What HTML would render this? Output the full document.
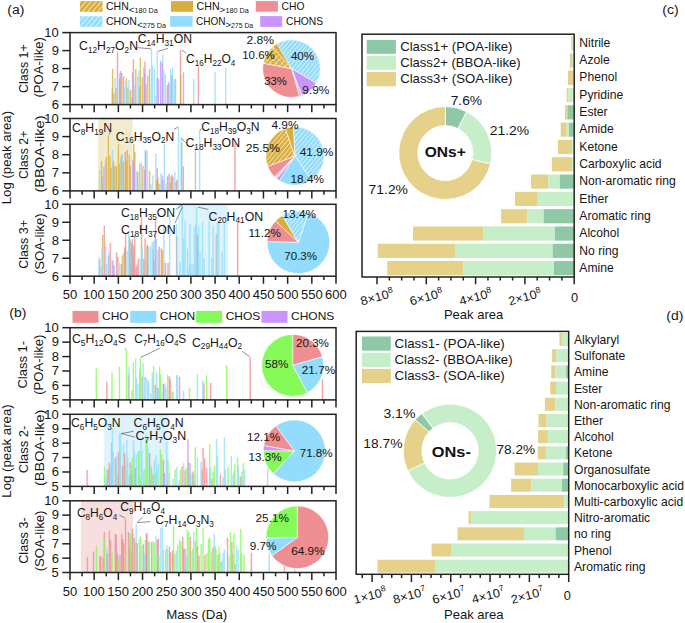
<!DOCTYPE html>
<html><head><meta charset="utf-8"><style>
html,body{margin:0;padding:0;background:#fff;}
body{width:685px;height:623px;overflow:hidden;}
svg{display:block;font-family:"Liberation Sans", sans-serif;}
</style></head><body>
<svg width="685" height="623" viewBox="0 0 685 623">
<defs>
<pattern id="hb" patternUnits="userSpaceOnUse" width="3.3" height="10" patternTransform="rotate(40)"><rect width="3.3" height="10" fill="#93DCFB"/><line x1="0.5" y1="0" x2="0.5" y2="10" stroke="#fff" stroke-width="0.8" stroke-opacity="0.8"/></pattern>
<pattern id="hg" patternUnits="userSpaceOnUse" width="3.3" height="10" patternTransform="rotate(40)"><rect width="3.3" height="10" fill="#DAAE3C"/><line x1="0.5" y1="0" x2="0.5" y2="10" stroke="#fff" stroke-width="0.8" stroke-opacity="0.8"/></pattern>
<pattern id="lhb" patternUnits="userSpaceOnUse" width="3.9" height="10" patternTransform="rotate(40)"><rect width="3.9" height="10" fill="#93DCFB"/><line x1="0.5" y1="0" x2="0.5" y2="10" stroke="#fff" stroke-width="0.8" stroke-opacity="0.8"/></pattern>
<pattern id="lhg" patternUnits="userSpaceOnUse" width="3.9" height="10" patternTransform="rotate(40)"><rect width="3.9" height="10" fill="#DAAE3C"/><line x1="0.5" y1="0" x2="0.5" y2="10" stroke="#fff" stroke-width="0.8" stroke-opacity="0.8"/></pattern>
<pattern id="hgx" patternUnits="userSpaceOnUse" width="4.2" height="4.2" patternTransform="rotate(45)"><rect width="4.2" height="4.2" fill="#DAAE3C"/><line x1="0.5" y1="0" x2="0.5" y2="4.2" stroke="#fff" stroke-width="0.7" stroke-opacity="0.8"/><line x1="0" y1="0.5" x2="4.2" y2="0.5" stroke="#fff" stroke-width="0.6" stroke-opacity="0.6"/></pattern>
</defs>
<rect width="685" height="623" fill="#fff"/>
<rect x="98.10" y="118.50" width="34.40" height="72.40" fill="#F3EBCD"/>
<rect x="178.00" y="204.30" width="50.40" height="71.90" fill="#DDF3FD"/>
<rect x="104.20" y="414.30" width="64.30" height="72.10" fill="#DDF3FD"/>
<rect x="80.90" y="500.80" width="52.10" height="71.70" fill="#F7DFE0"/>
<rect x="113.28" y="93.43" width="1.45" height="11.17" fill="#DAAE3C" fill-opacity="0.78"/>
<rect x="114.28" y="77.99" width="1.45" height="26.61" fill="#93DCFB" fill-opacity="0.78"/>
<rect x="127.28" y="87.26" width="1.45" height="17.34" fill="#DAAE3C" fill-opacity="0.78"/>
<rect x="145.28" y="84.38" width="1.45" height="20.22" fill="#DAAE3C" fill-opacity="0.78"/>
<rect x="155.28" y="95.67" width="1.45" height="8.93" fill="#93DCFB" fill-opacity="0.78"/>
<rect x="173.28" y="79.33" width="1.45" height="25.27" fill="#93DCFB" fill-opacity="0.78"/>
<rect x="111.88" y="69.00" width="1.45" height="35.60" fill="#DAAE3C" fill-opacity="0.78"/>
<rect x="111.58" y="89.00" width="1.45" height="15.60" fill="#DAAE3C" fill-opacity="0.78"/>
<rect x="115.28" y="87.60" width="1.45" height="17.00" fill="#DAAE3C" fill-opacity="0.78"/>
<rect x="116.78" y="51.80" width="1.45" height="52.80" fill="#EF8E93" fill-opacity="0.78"/>
<rect x="116.78" y="83.00" width="1.45" height="21.60" fill="#93DCFB" fill-opacity="0.78"/>
<rect x="118.78" y="73.90" width="1.45" height="30.70" fill="#93DCFB" fill-opacity="0.78"/>
<rect x="119.78" y="71.00" width="1.45" height="33.60" fill="#C994FC" fill-opacity="0.78"/>
<rect x="118.98" y="78.80" width="1.45" height="25.80" fill="#DAAE3C" fill-opacity="0.78"/>
<rect x="121.08" y="72.90" width="1.45" height="31.70" fill="#DAAE3C" fill-opacity="0.78"/>
<rect x="122.88" y="76.80" width="1.45" height="27.80" fill="#EF8E93" fill-opacity="0.78"/>
<rect x="123.68" y="87.00" width="1.45" height="17.60" fill="#93DCFB" fill-opacity="0.78"/>
<rect x="125.78" y="78.80" width="1.45" height="25.80" fill="#DAAE3C" fill-opacity="0.78"/>
<rect x="125.28" y="82.20" width="1.45" height="22.40" fill="#93DCFB" fill-opacity="0.78"/>
<rect x="128.28" y="79.70" width="1.45" height="24.90" fill="#93DCFB" fill-opacity="0.78"/>
<rect x="129.88" y="90.00" width="1.45" height="14.60" fill="#DAAE3C" fill-opacity="0.78"/>
<rect x="131.68" y="97.80" width="1.45" height="6.80" fill="#DAAE3C" fill-opacity="0.78"/>
<rect x="131.88" y="72.40" width="1.45" height="32.20" fill="#C994FC" fill-opacity="0.78"/>
<rect x="132.68" y="59.20" width="1.45" height="45.40" fill="#DAAE3C" fill-opacity="0.78"/>
<rect x="133.68" y="85.00" width="1.45" height="19.60" fill="#93DCFB" fill-opacity="0.78"/>
<rect x="135.08" y="69.00" width="1.45" height="35.60" fill="#DAAE3C" fill-opacity="0.78"/>
<rect x="137.08" y="76.30" width="1.45" height="28.30" fill="#93DCFB" fill-opacity="0.78"/>
<rect x="138.08" y="71.00" width="1.45" height="33.60" fill="#93DCFB" fill-opacity="0.78"/>
<rect x="138.97" y="87.00" width="1.45" height="17.60" fill="#C994FC" fill-opacity="0.78"/>
<rect x="139.68" y="57.70" width="1.45" height="46.90" fill="#DAAE3C" fill-opacity="0.78"/>
<rect x="141.68" y="77.30" width="1.45" height="27.30" fill="#DAAE3C" fill-opacity="0.78"/>
<rect x="142.88" y="67.00" width="1.45" height="37.60" fill="#93DCFB" fill-opacity="0.78"/>
<rect x="144.18" y="61.60" width="1.45" height="43.00" fill="#EF8E93" fill-opacity="0.78"/>
<rect x="143.88" y="73.40" width="1.45" height="31.20" fill="#C994FC" fill-opacity="0.78"/>
<rect x="146.88" y="75.30" width="1.45" height="29.30" fill="#a8c890" fill-opacity="0.78"/>
<rect x="148.78" y="69.00" width="1.45" height="35.60" fill="#DAAE3C" fill-opacity="0.78"/>
<rect x="150.78" y="48.90" width="1.45" height="55.70" fill="#93DCFB" fill-opacity="0.78"/>
<rect x="151.78" y="66.00" width="1.45" height="38.60" fill="#93DCFB" fill-opacity="0.78"/>
<rect x="153.68" y="68.50" width="1.45" height="36.10" fill="#93DCFB" fill-opacity="0.78"/>
<rect x="156.58" y="78.30" width="1.45" height="26.30" fill="#C994FC" fill-opacity="0.78"/>
<rect x="156.58" y="50.90" width="1.45" height="53.70" fill="#93DCFB" fill-opacity="0.78"/>
<rect x="157.58" y="78.80" width="1.45" height="25.80" fill="#C994FC" fill-opacity="0.78"/>
<rect x="159.88" y="60.70" width="1.45" height="43.90" fill="#C994FC" fill-opacity="0.78"/>
<rect x="161.97" y="54.30" width="1.45" height="50.30" fill="#93DCFB" fill-opacity="0.78"/>
<rect x="161.47" y="63.00" width="1.45" height="41.60" fill="#C994FC" fill-opacity="0.78"/>
<rect x="163.18" y="70.40" width="1.45" height="34.20" fill="#93DCFB" fill-opacity="0.78"/>
<rect x="164.68" y="74.80" width="1.45" height="29.80" fill="#93DCFB" fill-opacity="0.78"/>
<rect x="166.58" y="85.10" width="1.45" height="19.50" fill="#DAAE3C" fill-opacity="0.78"/>
<rect x="167.88" y="82.20" width="1.45" height="22.40" fill="#C994FC" fill-opacity="0.78"/>
<rect x="168.88" y="84.10" width="1.45" height="20.50" fill="#93DCFB" fill-opacity="0.78"/>
<rect x="169.88" y="69.00" width="1.45" height="35.60" fill="#93DCFB" fill-opacity="0.78"/>
<rect x="170.97" y="75.30" width="1.45" height="29.30" fill="#EF8E93" fill-opacity="0.78"/>
<rect x="171.78" y="67.30" width="1.45" height="37.30" fill="#93DCFB" fill-opacity="0.78"/>
<rect x="174.78" y="78.80" width="1.45" height="25.80" fill="#b8b8b8" fill-opacity="0.78"/>
<rect x="174.18" y="83.20" width="1.45" height="21.40" fill="#93DCFB" fill-opacity="0.78"/>
<rect x="179.78" y="49.40" width="1.45" height="55.20" fill="#EF8E93" fill-opacity="0.78"/>
<rect x="179.97" y="74.80" width="1.45" height="29.80" fill="#DAAE3C" fill-opacity="0.78"/>
<rect x="182.78" y="72.40" width="1.45" height="32.20" fill="#C994FC" fill-opacity="0.78"/>
<rect x="193.08" y="79.00" width="1.45" height="25.60" fill="#93DCFB" fill-opacity="0.78"/>
<rect x="197.68" y="66.50" width="1.45" height="38.10" fill="#EF8E93" fill-opacity="0.78"/>
<rect x="214.28" y="71.90" width="1.45" height="32.70" fill="#93DCFB" fill-opacity="0.78"/>
<rect x="224.97" y="67.80" width="1.45" height="36.80" fill="#93DCFB" fill-opacity="0.78"/>
<rect x="103.28" y="166.61" width="1.45" height="24.29" fill="#C994FC" fill-opacity="0.78"/>
<rect x="150.28" y="183.89" width="1.45" height="7.01" fill="#93DCFB" fill-opacity="0.78"/>
<rect x="158.28" y="184.24" width="1.45" height="6.66" fill="#C994FC" fill-opacity="0.78"/>
<rect x="159.28" y="183.37" width="1.45" height="7.53" fill="#93DCFB" fill-opacity="0.78"/>
<rect x="161.28" y="175.67" width="1.45" height="15.23" fill="#C994FC" fill-opacity="0.78"/>
<rect x="162.28" y="179.90" width="1.45" height="11.00" fill="#C994FC" fill-opacity="0.78"/>
<rect x="165.28" y="183.35" width="1.45" height="7.55" fill="#93DCFB" fill-opacity="0.78"/>
<rect x="169.28" y="182.64" width="1.45" height="8.26" fill="#DAAE3C" fill-opacity="0.78"/>
<rect x="170.28" y="176.52" width="1.45" height="14.38" fill="#DAAE3C" fill-opacity="0.78"/>
<rect x="172.28" y="176.74" width="1.45" height="14.16" fill="#C994FC" fill-opacity="0.78"/>
<rect x="175.28" y="181.76" width="1.45" height="9.14" fill="#EF8E93" fill-opacity="0.78"/>
<rect x="98.78" y="170.30" width="1.45" height="20.60" fill="#93DCFB" fill-opacity="0.78"/>
<rect x="100.78" y="160.80" width="1.45" height="30.10" fill="#DAAE3C" fill-opacity="0.78"/>
<rect x="101.78" y="176.80" width="1.45" height="14.10" fill="#b8b8b8" fill-opacity="0.78"/>
<rect x="104.68" y="159.90" width="1.45" height="31.00" fill="#93DCFB" fill-opacity="0.78"/>
<rect x="105.68" y="156.90" width="1.45" height="34.00" fill="#DAAE3C" fill-opacity="0.78"/>
<rect x="107.68" y="135.50" width="1.45" height="55.40" fill="#DAAE3C" fill-opacity="0.78"/>
<rect x="109.28" y="155.90" width="1.45" height="35.00" fill="#DAAE3C" fill-opacity="0.78"/>
<rect x="110.28" y="167.80" width="1.45" height="23.10" fill="#DAAE3C" fill-opacity="0.78"/>
<rect x="111.68" y="149.90" width="1.45" height="41.00" fill="#93DCFB" fill-opacity="0.78"/>
<rect x="112.68" y="160.80" width="1.45" height="30.10" fill="#DAAE3C" fill-opacity="0.78"/>
<rect x="113.68" y="165.80" width="1.45" height="25.10" fill="#DAAE3C" fill-opacity="0.78"/>
<rect x="114.68" y="166.80" width="1.45" height="24.10" fill="#93DCFB" fill-opacity="0.78"/>
<rect x="115.68" y="165.80" width="1.45" height="25.10" fill="#DAAE3C" fill-opacity="0.78"/>
<rect x="117.68" y="143.90" width="1.45" height="47.00" fill="#DAAE3C" fill-opacity="0.78"/>
<rect x="118.68" y="163.80" width="1.45" height="27.10" fill="#DAAE3C" fill-opacity="0.78"/>
<rect x="119.68" y="158.90" width="1.45" height="32.00" fill="#93DCFB" fill-opacity="0.78"/>
<rect x="120.68" y="154.90" width="1.45" height="36.00" fill="#DAAE3C" fill-opacity="0.78"/>
<rect x="121.68" y="153.90" width="1.45" height="37.00" fill="#93DCFB" fill-opacity="0.78"/>
<rect x="122.68" y="161.80" width="1.45" height="29.10" fill="#DAAE3C" fill-opacity="0.78"/>
<rect x="124.58" y="151.90" width="1.45" height="39.00" fill="#EF8E93" fill-opacity="0.78"/>
<rect x="125.58" y="160.80" width="1.45" height="30.10" fill="#DAAE3C" fill-opacity="0.78"/>
<rect x="126.58" y="149.90" width="1.45" height="41.00" fill="#DAAE3C" fill-opacity="0.78"/>
<rect x="128.58" y="154.90" width="1.45" height="36.00" fill="#DAAE3C" fill-opacity="0.78"/>
<rect x="129.58" y="165.80" width="1.45" height="25.10" fill="#DAAE3C" fill-opacity="0.78"/>
<rect x="132.08" y="159.90" width="1.45" height="31.00" fill="#C994FC" fill-opacity="0.78"/>
<rect x="133.08" y="143.90" width="1.45" height="47.00" fill="#DAAE3C" fill-opacity="0.78"/>
<rect x="134.08" y="151.90" width="1.45" height="39.00" fill="#DAAE3C" fill-opacity="0.78"/>
<rect x="133.58" y="167.80" width="1.45" height="23.10" fill="#C994FC" fill-opacity="0.78"/>
<rect x="136.08" y="170.80" width="1.45" height="20.10" fill="#93DCFB" fill-opacity="0.78"/>
<rect x="137.08" y="171.80" width="1.45" height="19.10" fill="#DAAE3C" fill-opacity="0.78"/>
<rect x="139.08" y="163.80" width="1.45" height="27.10" fill="#b8b8b8" fill-opacity="0.78"/>
<rect x="140.58" y="161.80" width="1.45" height="29.10" fill="#93DCFB" fill-opacity="0.78"/>
<rect x="142.08" y="165.80" width="1.45" height="25.10" fill="#DAAE3C" fill-opacity="0.78"/>
<rect x="144.47" y="149.40" width="1.45" height="41.50" fill="#93DCFB" fill-opacity="0.78"/>
<rect x="144.97" y="151.40" width="1.45" height="39.50" fill="#EF8E93" fill-opacity="0.78"/>
<rect x="146.47" y="149.90" width="1.45" height="41.00" fill="#93DCFB" fill-opacity="0.78"/>
<rect x="144.08" y="169.80" width="1.45" height="21.10" fill="#C994FC" fill-opacity="0.78"/>
<rect x="148.78" y="170.80" width="1.45" height="20.10" fill="#DAAE3C" fill-opacity="0.78"/>
<rect x="152.18" y="175.40" width="1.45" height="15.50" fill="#93DCFB" fill-opacity="0.78"/>
<rect x="155.08" y="153.50" width="1.45" height="37.40" fill="#93DCFB" fill-opacity="0.78"/>
<rect x="156.58" y="168.10" width="1.45" height="22.80" fill="#C994FC" fill-opacity="0.78"/>
<rect x="155.88" y="180.50" width="1.45" height="10.40" fill="#DAAE3C" fill-opacity="0.78"/>
<rect x="157.28" y="177.60" width="1.45" height="13.30" fill="#DAAE3C" fill-opacity="0.78"/>
<rect x="160.28" y="173.20" width="1.45" height="17.70" fill="#93DCFB" fill-opacity="0.78"/>
<rect x="163.58" y="144.00" width="1.45" height="46.90" fill="#93DCFB" fill-opacity="0.78"/>
<rect x="166.78" y="176.10" width="1.45" height="14.80" fill="#DAAE3C" fill-opacity="0.78"/>
<rect x="168.28" y="173.90" width="1.45" height="17.00" fill="#C994FC" fill-opacity="0.78"/>
<rect x="171.18" y="174.60" width="1.45" height="16.30" fill="#EF8E93" fill-opacity="0.78"/>
<rect x="174.08" y="171.70" width="1.45" height="19.20" fill="#93DCFB" fill-opacity="0.78"/>
<rect x="176.28" y="179.70" width="1.45" height="11.20" fill="#EF8E93" fill-opacity="0.78"/>
<rect x="177.78" y="126.50" width="1.45" height="64.40" fill="#93DCFB" fill-opacity="0.78"/>
<rect x="180.38" y="137.40" width="1.45" height="53.50" fill="#93DCFB" fill-opacity="0.78"/>
<rect x="181.08" y="142.50" width="1.45" height="48.40" fill="#a8c890" fill-opacity="0.78"/>
<rect x="182.58" y="166.60" width="1.45" height="24.30" fill="#C994FC" fill-opacity="0.78"/>
<rect x="194.78" y="147.60" width="1.45" height="43.30" fill="#a8c890" fill-opacity="0.78"/>
<rect x="198.88" y="131.60" width="1.45" height="59.30" fill="#93DCFB" fill-opacity="0.78"/>
<rect x="234.28" y="143.20" width="1.45" height="47.70" fill="#EF8E93" fill-opacity="0.78"/>
<rect x="100.28" y="265.74" width="1.45" height="10.46" fill="#93DCFB" fill-opacity="0.78"/>
<rect x="111.28" y="260.09" width="1.45" height="16.11" fill="#93DCFB" fill-opacity="0.78"/>
<rect x="112.28" y="260.50" width="1.45" height="15.70" fill="#C994FC" fill-opacity="0.78"/>
<rect x="113.28" y="265.47" width="1.45" height="10.73" fill="#EF8E93" fill-opacity="0.78"/>
<rect x="135.28" y="267.50" width="1.45" height="8.70" fill="#EF8E93" fill-opacity="0.78"/>
<rect x="136.28" y="264.47" width="1.45" height="11.73" fill="#EF8E93" fill-opacity="0.78"/>
<rect x="167.28" y="262.98" width="1.45" height="13.22" fill="#EF8E93" fill-opacity="0.78"/>
<rect x="179.28" y="262.18" width="1.45" height="14.02" fill="#93DCFB" fill-opacity="0.78"/>
<rect x="188.28" y="266.03" width="1.45" height="10.17" fill="#93DCFB" fill-opacity="0.78"/>
<rect x="190.28" y="264.01" width="1.45" height="12.19" fill="#93DCFB" fill-opacity="0.78"/>
<rect x="192.28" y="264.10" width="1.45" height="12.10" fill="#93DCFB" fill-opacity="0.78"/>
<rect x="199.28" y="251.76" width="1.45" height="24.44" fill="#93DCFB" fill-opacity="0.78"/>
<rect x="203.28" y="258.33" width="1.45" height="17.87" fill="#93DCFB" fill-opacity="0.78"/>
<rect x="211.28" y="257.89" width="1.45" height="18.31" fill="#93DCFB" fill-opacity="0.78"/>
<rect x="221.28" y="251.55" width="1.45" height="24.65" fill="#93DCFB" fill-opacity="0.78"/>
<rect x="98.38" y="257.00" width="1.45" height="19.20" fill="#93DCFB" fill-opacity="0.78"/>
<rect x="98.98" y="259.40" width="1.45" height="16.80" fill="#b8b8b8" fill-opacity="0.78"/>
<rect x="101.88" y="234.90" width="1.45" height="41.30" fill="#DAAE3C" fill-opacity="0.78"/>
<rect x="101.28" y="248.30" width="1.45" height="27.90" fill="#93DCFB" fill-opacity="0.78"/>
<rect x="103.58" y="225.50" width="1.45" height="50.70" fill="#EF8E93" fill-opacity="0.78"/>
<rect x="104.98" y="246.50" width="1.45" height="29.70" fill="#93DCFB" fill-opacity="0.78"/>
<rect x="105.98" y="264.00" width="1.45" height="12.20" fill="#93DCFB" fill-opacity="0.78"/>
<rect x="107.68" y="255.90" width="1.45" height="20.30" fill="#EF8E93" fill-opacity="0.78"/>
<rect x="108.08" y="252.40" width="1.45" height="23.80" fill="#93DCFB" fill-opacity="0.78"/>
<rect x="109.48" y="243.00" width="1.45" height="33.20" fill="#EF8E93" fill-opacity="0.78"/>
<rect x="115.88" y="252.40" width="1.45" height="23.80" fill="#EF8E93" fill-opacity="0.78"/>
<rect x="117.08" y="257.00" width="1.45" height="19.20" fill="#EF8E93" fill-opacity="0.78"/>
<rect x="116.48" y="262.90" width="1.45" height="13.30" fill="#93DCFB" fill-opacity="0.78"/>
<rect x="118.78" y="262.90" width="1.45" height="13.30" fill="#93DCFB" fill-opacity="0.78"/>
<rect x="120.58" y="264.00" width="1.45" height="12.20" fill="#EF8E93" fill-opacity="0.78"/>
<rect x="121.68" y="255.30" width="1.45" height="20.90" fill="#DAAE3C" fill-opacity="0.78"/>
<rect x="122.88" y="252.40" width="1.45" height="23.80" fill="#93DCFB" fill-opacity="0.78"/>
<rect x="124.08" y="247.10" width="1.45" height="29.10" fill="#EF8E93" fill-opacity="0.78"/>
<rect x="124.38" y="248.90" width="1.45" height="27.30" fill="#DAAE3C" fill-opacity="0.78"/>
<rect x="124.88" y="234.30" width="1.45" height="41.90" fill="#EF8E93" fill-opacity="0.78"/>
<rect x="126.38" y="251.20" width="1.45" height="25.00" fill="#93DCFB" fill-opacity="0.78"/>
<rect x="127.88" y="233.10" width="1.45" height="43.10" fill="#93DCFB" fill-opacity="0.78"/>
<rect x="128.78" y="236.60" width="1.45" height="39.60" fill="#93DCFB" fill-opacity="0.78"/>
<rect x="129.28" y="239.50" width="1.45" height="36.70" fill="#DAAE3C" fill-opacity="0.78"/>
<rect x="130.28" y="244.80" width="1.45" height="31.40" fill="#93DCFB" fill-opacity="0.78"/>
<rect x="130.68" y="241.90" width="1.45" height="34.30" fill="#EF8E93" fill-opacity="0.78"/>
<rect x="131.68" y="238.90" width="1.45" height="37.30" fill="#b8b8b8" fill-opacity="0.78"/>
<rect x="132.58" y="244.80" width="1.45" height="31.40" fill="#EF8E93" fill-opacity="0.78"/>
<rect x="132.78" y="253.50" width="1.45" height="22.70" fill="#C994FC" fill-opacity="0.78"/>
<rect x="133.97" y="234.90" width="1.45" height="41.30" fill="#EF8E93" fill-opacity="0.78"/>
<rect x="140.78" y="216.80" width="1.45" height="59.40" fill="#DAAE3C" fill-opacity="0.78"/>
<rect x="137.47" y="258.80" width="1.45" height="17.40" fill="#EF8E93" fill-opacity="0.78"/>
<rect x="139.28" y="258.20" width="1.45" height="18.00" fill="#93DCFB" fill-opacity="0.78"/>
<rect x="141.58" y="246.50" width="1.45" height="29.70" fill="#93DCFB" fill-opacity="0.78"/>
<rect x="144.28" y="238.40" width="1.45" height="37.80" fill="#EF8E93" fill-opacity="0.78"/>
<rect x="143.08" y="258.80" width="1.45" height="17.40" fill="#EF8E93" fill-opacity="0.78"/>
<rect x="144.88" y="255.30" width="1.45" height="20.90" fill="#93DCFB" fill-opacity="0.78"/>
<rect x="146.28" y="245.40" width="1.45" height="30.80" fill="#DAAE3C" fill-opacity="0.78"/>
<rect x="146.88" y="244.80" width="1.45" height="31.40" fill="#EF8E93" fill-opacity="0.78"/>
<rect x="147.97" y="247.10" width="1.45" height="29.10" fill="#93DCFB" fill-opacity="0.78"/>
<rect x="149.78" y="246.00" width="1.45" height="30.20" fill="#93DCFB" fill-opacity="0.78"/>
<rect x="151.47" y="242.40" width="1.45" height="33.80" fill="#93DCFB" fill-opacity="0.78"/>
<rect x="152.68" y="248.90" width="1.45" height="27.30" fill="#EF8E93" fill-opacity="0.78"/>
<rect x="152.68" y="241.30" width="1.45" height="34.90" fill="#93DCFB" fill-opacity="0.78"/>
<rect x="153.28" y="259.40" width="1.45" height="16.80" fill="#C994FC" fill-opacity="0.78"/>
<rect x="154.38" y="236.60" width="1.45" height="39.60" fill="#93DCFB" fill-opacity="0.78"/>
<rect x="154.78" y="219.70" width="1.45" height="56.50" fill="#EF8E93" fill-opacity="0.78"/>
<rect x="155.58" y="238.40" width="1.45" height="37.80" fill="#93DCFB" fill-opacity="0.78"/>
<rect x="157.08" y="250.00" width="1.45" height="26.20" fill="#93DCFB" fill-opacity="0.78"/>
<rect x="158.47" y="246.50" width="1.45" height="29.70" fill="#EF8E93" fill-opacity="0.78"/>
<rect x="160.58" y="248.30" width="1.45" height="27.90" fill="#EF8E93" fill-opacity="0.78"/>
<rect x="161.97" y="250.00" width="1.45" height="26.20" fill="#DAAE3C" fill-opacity="0.78"/>
<rect x="163.18" y="223.80" width="1.45" height="52.40" fill="#93DCFB" fill-opacity="0.78"/>
<rect x="164.68" y="262.90" width="1.45" height="13.30" fill="#EF8E93" fill-opacity="0.78"/>
<rect x="168.97" y="214.50" width="1.45" height="61.70" fill="#93DCFB" fill-opacity="0.78"/>
<rect x="175.78" y="223.80" width="1.45" height="52.40" fill="#93DCFB" fill-opacity="0.78"/>
<rect x="176.18" y="236.30" width="1.45" height="39.90" fill="#b8b8b8" fill-opacity="0.78"/>
<rect x="181.78" y="205.00" width="1.45" height="71.20" fill="#93DCFB" fill-opacity="0.78"/>
<rect x="183.08" y="237.50" width="1.45" height="38.70" fill="#93DCFB" fill-opacity="0.78"/>
<rect x="184.28" y="220.70" width="1.45" height="55.50" fill="#93DCFB" fill-opacity="0.78"/>
<rect x="186.78" y="248.80" width="1.45" height="27.40" fill="#93DCFB" fill-opacity="0.78"/>
<rect x="189.28" y="224.40" width="1.45" height="51.80" fill="#93DCFB" fill-opacity="0.78"/>
<rect x="193.68" y="227.50" width="1.45" height="48.70" fill="#93DCFB" fill-opacity="0.78"/>
<rect x="194.97" y="223.20" width="1.45" height="53.00" fill="#93DCFB" fill-opacity="0.78"/>
<rect x="195.78" y="206.90" width="1.45" height="69.30" fill="#93DCFB" fill-opacity="0.78"/>
<rect x="196.78" y="235.00" width="1.45" height="41.20" fill="#EF8E93" fill-opacity="0.78"/>
<rect x="197.78" y="226.90" width="1.45" height="49.30" fill="#93DCFB" fill-opacity="0.78"/>
<rect x="201.78" y="221.90" width="1.45" height="54.30" fill="#93DCFB" fill-opacity="0.78"/>
<rect x="208.38" y="221.90" width="1.45" height="54.30" fill="#93DCFB" fill-opacity="0.78"/>
<rect x="212.47" y="226.30" width="1.45" height="49.90" fill="#93DCFB" fill-opacity="0.78"/>
<rect x="215.58" y="233.80" width="1.45" height="42.40" fill="#b8b8b8" fill-opacity="0.78"/>
<rect x="216.88" y="222.50" width="1.45" height="53.70" fill="#93DCFB" fill-opacity="0.78"/>
<rect x="218.08" y="221.90" width="1.45" height="54.30" fill="#93DCFB" fill-opacity="0.78"/>
<rect x="223.68" y="223.20" width="1.45" height="53.00" fill="#93DCFB" fill-opacity="0.78"/>
<rect x="236.88" y="222.50" width="1.45" height="53.70" fill="#EF8E93" fill-opacity="0.78"/>
<rect x="131.28" y="390.31" width="1.45" height="9.59" fill="#86FA59" fill-opacity="0.78"/>
<rect x="150.28" y="393.13" width="1.45" height="6.77" fill="#93DCFB" fill-opacity="0.78"/>
<rect x="161.28" y="392.12" width="1.45" height="7.78" fill="#93DCFB" fill-opacity="0.78"/>
<rect x="164.28" y="383.13" width="1.45" height="16.77" fill="#93DCFB" fill-opacity="0.78"/>
<rect x="165.28" y="388.07" width="1.45" height="11.83" fill="#93DCFB" fill-opacity="0.78"/>
<rect x="171.28" y="392.09" width="1.45" height="7.81" fill="#93DCFB" fill-opacity="0.78"/>
<rect x="172.28" y="391.26" width="1.45" height="8.64" fill="#86FA59" fill-opacity="0.78"/>
<rect x="95.58" y="368.40" width="1.45" height="31.50" fill="#86FA59" fill-opacity="0.78"/>
<rect x="106.08" y="381.50" width="1.45" height="18.40" fill="#EF8E93" fill-opacity="0.78"/>
<rect x="111.28" y="372.30" width="1.45" height="27.60" fill="#86FA59" fill-opacity="0.78"/>
<rect x="118.68" y="366.50" width="1.45" height="33.40" fill="#86FA59" fill-opacity="0.78"/>
<rect x="125.78" y="350.00" width="1.45" height="49.90" fill="#86FA59" fill-opacity="0.78"/>
<rect x="127.78" y="374.80" width="1.45" height="25.10" fill="#EF8E93" fill-opacity="0.78"/>
<rect x="128.28" y="366.90" width="1.45" height="33.00" fill="#93DCFB" fill-opacity="0.78"/>
<rect x="132.68" y="361.90" width="1.45" height="38.00" fill="#86FA59" fill-opacity="0.78"/>
<rect x="134.97" y="358.40" width="1.45" height="41.50" fill="#93DCFB" fill-opacity="0.78"/>
<rect x="135.68" y="377.80" width="1.45" height="22.10" fill="#93DCFB" fill-opacity="0.78"/>
<rect x="137.18" y="383.80" width="1.45" height="16.10" fill="#93DCFB" fill-opacity="0.78"/>
<rect x="138.97" y="368.90" width="1.45" height="31.00" fill="#86FA59" fill-opacity="0.78"/>
<rect x="139.68" y="357.40" width="1.45" height="42.50" fill="#86FA59" fill-opacity="0.78"/>
<rect x="141.38" y="376.30" width="1.45" height="23.60" fill="#EF8E93" fill-opacity="0.78"/>
<rect x="142.38" y="362.90" width="1.45" height="37.00" fill="#93DCFB" fill-opacity="0.78"/>
<rect x="143.97" y="376.80" width="1.45" height="23.10" fill="#93DCFB" fill-opacity="0.78"/>
<rect x="145.18" y="376.80" width="1.45" height="23.10" fill="#93DCFB" fill-opacity="0.78"/>
<rect x="146.97" y="379.30" width="1.45" height="20.60" fill="#93DCFB" fill-opacity="0.78"/>
<rect x="147.97" y="381.80" width="1.45" height="18.10" fill="#93DCFB" fill-opacity="0.78"/>
<rect x="151.58" y="372.80" width="1.45" height="27.10" fill="#93DCFB" fill-opacity="0.78"/>
<rect x="152.88" y="365.90" width="1.45" height="34.00" fill="#86FA59" fill-opacity="0.78"/>
<rect x="154.58" y="384.80" width="1.45" height="15.10" fill="#EF8E93" fill-opacity="0.78"/>
<rect x="155.88" y="372.30" width="1.45" height="27.60" fill="#93DCFB" fill-opacity="0.78"/>
<rect x="157.08" y="387.80" width="1.45" height="12.10" fill="#EF8E93" fill-opacity="0.78"/>
<rect x="157.88" y="389.80" width="1.45" height="10.10" fill="#93DCFB" fill-opacity="0.78"/>
<rect x="158.88" y="366.40" width="1.45" height="33.50" fill="#86FA59" fill-opacity="0.78"/>
<rect x="159.58" y="373.80" width="1.45" height="26.10" fill="#86FA59" fill-opacity="0.78"/>
<rect x="162.58" y="384.10" width="1.45" height="15.80" fill="#93DCFB" fill-opacity="0.78"/>
<rect x="162.88" y="384.30" width="1.45" height="15.60" fill="#EF8E93" fill-opacity="0.78"/>
<rect x="166.88" y="374.80" width="1.45" height="25.10" fill="#86FA59" fill-opacity="0.78"/>
<rect x="168.58" y="376.30" width="1.45" height="23.60" fill="#EF8E93" fill-opacity="0.78"/>
<rect x="169.47" y="379.30" width="1.45" height="20.60" fill="#EF8E93" fill-opacity="0.78"/>
<rect x="175.97" y="375.30" width="1.45" height="24.60" fill="#93DCFB" fill-opacity="0.78"/>
<rect x="178.78" y="376.80" width="1.45" height="23.10" fill="#EF8E93" fill-opacity="0.78"/>
<rect x="176.47" y="374.90" width="1.45" height="25.00" fill="#93DCFB" fill-opacity="0.78"/>
<rect x="182.78" y="390.70" width="1.45" height="9.20" fill="#93DCFB" fill-opacity="0.78"/>
<rect x="188.78" y="388.10" width="1.45" height="11.80" fill="#86FA59" fill-opacity="0.78"/>
<rect x="196.68" y="373.60" width="1.45" height="26.30" fill="#93DCFB" fill-opacity="0.78"/>
<rect x="201.97" y="380.20" width="1.45" height="19.70" fill="#93DCFB" fill-opacity="0.78"/>
<rect x="203.28" y="382.80" width="1.45" height="17.10" fill="#EF8E93" fill-opacity="0.78"/>
<rect x="205.88" y="375.40" width="1.45" height="24.50" fill="#86FA59" fill-opacity="0.78"/>
<rect x="209.88" y="382.80" width="1.45" height="17.10" fill="#EF8E93" fill-opacity="0.78"/>
<rect x="225.88" y="365.20" width="1.45" height="34.70" fill="#86FA59" fill-opacity="0.78"/>
<rect x="249.47" y="357.00" width="1.45" height="42.90" fill="#EF8E93" fill-opacity="0.78"/>
<rect x="321.77" y="379.00" width="1.45" height="20.90" fill="#EF8E93" fill-opacity="0.78"/>
<rect x="105.28" y="475.67" width="1.45" height="10.73" fill="#93DCFB" fill-opacity="0.78"/>
<rect x="106.28" y="469.38" width="1.45" height="17.02" fill="#93DCFB" fill-opacity="0.78"/>
<rect x="107.28" y="469.84" width="1.45" height="16.56" fill="#EF8E93" fill-opacity="0.78"/>
<rect x="128.28" y="475.36" width="1.45" height="11.04" fill="#93DCFB" fill-opacity="0.78"/>
<rect x="139.28" y="476.66" width="1.45" height="9.74" fill="#86FA59" fill-opacity="0.78"/>
<rect x="144.28" y="468.81" width="1.45" height="17.59" fill="#86FA59" fill-opacity="0.78"/>
<rect x="152.28" y="474.46" width="1.45" height="11.94" fill="#EF8E93" fill-opacity="0.78"/>
<rect x="156.28" y="469.01" width="1.45" height="17.39" fill="#93DCFB" fill-opacity="0.78"/>
<rect x="172.28" y="478.79" width="1.45" height="7.61" fill="#93DCFB" fill-opacity="0.78"/>
<rect x="178.28" y="480.33" width="1.45" height="6.07" fill="#93DCFB" fill-opacity="0.78"/>
<rect x="184.28" y="470.23" width="1.45" height="16.17" fill="#EF8E93" fill-opacity="0.78"/>
<rect x="191.28" y="473.40" width="1.45" height="13.00" fill="#93DCFB" fill-opacity="0.78"/>
<rect x="192.28" y="471.45" width="1.45" height="14.95" fill="#EF8E93" fill-opacity="0.78"/>
<rect x="193.28" y="474.86" width="1.45" height="11.54" fill="#86FA59" fill-opacity="0.78"/>
<rect x="201.28" y="469.96" width="1.45" height="16.44" fill="#EF8E93" fill-opacity="0.78"/>
<rect x="211.28" y="478.94" width="1.45" height="7.46" fill="#EF8E93" fill-opacity="0.78"/>
<rect x="212.28" y="472.07" width="1.45" height="14.33" fill="#86FA59" fill-opacity="0.78"/>
<rect x="222.28" y="477.08" width="1.45" height="9.32" fill="#93DCFB" fill-opacity="0.78"/>
<rect x="232.28" y="474.54" width="1.45" height="11.86" fill="#93DCFB" fill-opacity="0.78"/>
<rect x="233.28" y="470.82" width="1.45" height="15.58" fill="#93DCFB" fill-opacity="0.78"/>
<rect x="239.28" y="475.84" width="1.45" height="10.56" fill="#86FA59" fill-opacity="0.78"/>
<rect x="240.28" y="476.89" width="1.45" height="9.51" fill="#EF8E93" fill-opacity="0.78"/>
<rect x="241.28" y="472.03" width="1.45" height="14.37" fill="#93DCFB" fill-opacity="0.78"/>
<rect x="86.38" y="469.90" width="1.45" height="16.50" fill="#EF8E93" fill-opacity="0.78"/>
<rect x="103.78" y="466.90" width="1.45" height="19.50" fill="#86FA59" fill-opacity="0.78"/>
<rect x="108.58" y="462.80" width="1.45" height="23.60" fill="#EF8E93" fill-opacity="0.78"/>
<rect x="109.58" y="464.90" width="1.45" height="21.50" fill="#93DCFB" fill-opacity="0.78"/>
<rect x="110.88" y="442.40" width="1.45" height="44.00" fill="#b8b8b8" fill-opacity="0.78"/>
<rect x="111.68" y="428.10" width="1.45" height="58.30" fill="#93DCFB" fill-opacity="0.78"/>
<rect x="112.48" y="452.10" width="1.45" height="34.30" fill="#93DCFB" fill-opacity="0.78"/>
<rect x="114.68" y="457.70" width="1.45" height="28.70" fill="#EF8E93" fill-opacity="0.78"/>
<rect x="115.78" y="455.70" width="1.45" height="30.70" fill="#93DCFB" fill-opacity="0.78"/>
<rect x="116.78" y="474.00" width="1.45" height="12.40" fill="#86FA59" fill-opacity="0.78"/>
<rect x="117.78" y="452.10" width="1.45" height="34.30" fill="#EF8E93" fill-opacity="0.78"/>
<rect x="118.78" y="433.20" width="1.45" height="53.20" fill="#93DCFB" fill-opacity="0.78"/>
<rect x="119.28" y="448.50" width="1.45" height="37.90" fill="#86FA59" fill-opacity="0.78"/>
<rect x="119.78" y="434.20" width="1.45" height="52.20" fill="#93DCFB" fill-opacity="0.78"/>
<rect x="122.68" y="444.90" width="1.45" height="41.50" fill="#93DCFB" fill-opacity="0.78"/>
<rect x="121.88" y="465.90" width="1.45" height="20.50" fill="#EF8E93" fill-opacity="0.78"/>
<rect x="123.88" y="453.10" width="1.45" height="33.30" fill="#EF8E93" fill-opacity="0.78"/>
<rect x="124.78" y="465.90" width="1.45" height="20.50" fill="#86FA59" fill-opacity="0.78"/>
<rect x="125.98" y="439.80" width="1.45" height="46.60" fill="#93DCFB" fill-opacity="0.78"/>
<rect x="126.98" y="457.70" width="1.45" height="28.70" fill="#93DCFB" fill-opacity="0.78"/>
<rect x="129.58" y="462.30" width="1.45" height="24.10" fill="#EF8E93" fill-opacity="0.78"/>
<rect x="130.08" y="467.90" width="1.45" height="18.50" fill="#86FA59" fill-opacity="0.78"/>
<rect x="130.58" y="465.90" width="1.45" height="20.50" fill="#93DCFB" fill-opacity="0.78"/>
<rect x="130.88" y="474.00" width="1.45" height="12.40" fill="#EF8E93" fill-opacity="0.78"/>
<rect x="131.58" y="457.70" width="1.45" height="28.70" fill="#86FA59" fill-opacity="0.78"/>
<rect x="132.88" y="440.30" width="1.45" height="46.10" fill="#93DCFB" fill-opacity="0.78"/>
<rect x="133.58" y="452.60" width="1.45" height="33.80" fill="#93DCFB" fill-opacity="0.78"/>
<rect x="134.68" y="467.90" width="1.45" height="18.50" fill="#EF8E93" fill-opacity="0.78"/>
<rect x="135.68" y="454.60" width="1.45" height="31.80" fill="#93DCFB" fill-opacity="0.78"/>
<rect x="137.68" y="451.60" width="1.45" height="34.80" fill="#86FA59" fill-opacity="0.78"/>
<rect x="138.38" y="451.10" width="1.45" height="35.30" fill="#86FA59" fill-opacity="0.78"/>
<rect x="140.28" y="440.80" width="1.45" height="45.60" fill="#93DCFB" fill-opacity="0.78"/>
<rect x="141.28" y="450.50" width="1.45" height="35.90" fill="#93DCFB" fill-opacity="0.78"/>
<rect x="142.78" y="470.50" width="1.45" height="15.90" fill="#93DCFB" fill-opacity="0.78"/>
<rect x="145.38" y="435.20" width="1.45" height="51.20" fill="#86FA59" fill-opacity="0.78"/>
<rect x="146.38" y="440.30" width="1.45" height="46.10" fill="#86FA59" fill-opacity="0.78"/>
<rect x="147.38" y="448.50" width="1.45" height="37.90" fill="#93DCFB" fill-opacity="0.78"/>
<rect x="148.97" y="453.10" width="1.45" height="33.30" fill="#EF8E93" fill-opacity="0.78"/>
<rect x="150.28" y="465.90" width="1.45" height="20.50" fill="#86FA59" fill-opacity="0.78"/>
<rect x="150.97" y="468.90" width="1.45" height="17.50" fill="#86FA59" fill-opacity="0.78"/>
<rect x="153.58" y="460.30" width="1.45" height="26.10" fill="#93DCFB" fill-opacity="0.78"/>
<rect x="155.38" y="455.10" width="1.45" height="31.30" fill="#93DCFB" fill-opacity="0.78"/>
<rect x="155.08" y="474.00" width="1.45" height="12.40" fill="#86FA59" fill-opacity="0.78"/>
<rect x="157.68" y="463.80" width="1.45" height="22.60" fill="#93DCFB" fill-opacity="0.78"/>
<rect x="159.68" y="449.00" width="1.45" height="37.40" fill="#86FA59" fill-opacity="0.78"/>
<rect x="160.88" y="454.10" width="1.45" height="32.30" fill="#86FA59" fill-opacity="0.78"/>
<rect x="162.58" y="459.70" width="1.45" height="26.70" fill="#EF8E93" fill-opacity="0.78"/>
<rect x="163.78" y="473.00" width="1.45" height="13.40" fill="#C994FC" fill-opacity="0.78"/>
<rect x="165.88" y="442.10" width="1.45" height="44.30" fill="#93DCFB" fill-opacity="0.78"/>
<rect x="167.18" y="459.20" width="1.45" height="27.20" fill="#86FA59" fill-opacity="0.78"/>
<rect x="168.78" y="473.00" width="1.45" height="13.40" fill="#93DCFB" fill-opacity="0.78"/>
<rect x="174.38" y="469.70" width="1.45" height="16.70" fill="#86FA59" fill-opacity="0.78"/>
<rect x="176.08" y="467.00" width="1.45" height="19.40" fill="#93DCFB" fill-opacity="0.78"/>
<rect x="179.68" y="469.70" width="1.45" height="16.70" fill="#86FA59" fill-opacity="0.78"/>
<rect x="181.38" y="466.40" width="1.45" height="20.00" fill="#EF8E93" fill-opacity="0.78"/>
<rect x="182.97" y="463.10" width="1.45" height="23.30" fill="#93DCFB" fill-opacity="0.78"/>
<rect x="185.78" y="467.70" width="1.45" height="18.70" fill="#86FA59" fill-opacity="0.78"/>
<rect x="187.18" y="439.20" width="1.45" height="47.20" fill="#C994FC" fill-opacity="0.78"/>
<rect x="187.88" y="462.40" width="1.45" height="24.00" fill="#b8b8b8" fill-opacity="0.78"/>
<rect x="189.28" y="463.10" width="1.45" height="23.30" fill="#C994FC" fill-opacity="0.78"/>
<rect x="189.78" y="471.00" width="1.45" height="15.40" fill="#93DCFB" fill-opacity="0.78"/>
<rect x="194.47" y="447.30" width="1.45" height="39.10" fill="#86FA59" fill-opacity="0.78"/>
<rect x="196.68" y="457.20" width="1.45" height="29.20" fill="#93DCFB" fill-opacity="0.78"/>
<rect x="200.28" y="461.80" width="1.45" height="24.60" fill="#93DCFB" fill-opacity="0.78"/>
<rect x="202.38" y="448.00" width="1.45" height="38.40" fill="#EF8E93" fill-opacity="0.78"/>
<rect x="203.97" y="458.50" width="1.45" height="27.90" fill="#EF8E93" fill-opacity="0.78"/>
<rect x="205.88" y="467.70" width="1.45" height="18.70" fill="#EF8E93" fill-opacity="0.78"/>
<rect x="208.97" y="444.10" width="1.45" height="42.30" fill="#86FA59" fill-opacity="0.78"/>
<rect x="209.88" y="467.00" width="1.45" height="19.40" fill="#93DCFB" fill-opacity="0.78"/>
<rect x="213.78" y="465.70" width="1.45" height="20.70" fill="#86FA59" fill-opacity="0.78"/>
<rect x="215.78" y="438.80" width="1.45" height="47.60" fill="#93DCFB" fill-opacity="0.78"/>
<rect x="216.78" y="455.90" width="1.45" height="30.50" fill="#93DCFB" fill-opacity="0.78"/>
<rect x="219.68" y="474.30" width="1.45" height="12.10" fill="#EF8E93" fill-opacity="0.78"/>
<rect x="223.68" y="437.50" width="1.45" height="48.90" fill="#93DCFB" fill-opacity="0.78"/>
<rect x="224.68" y="469.70" width="1.45" height="16.70" fill="#93DCFB" fill-opacity="0.78"/>
<rect x="227.38" y="467.00" width="1.45" height="19.40" fill="#86FA59" fill-opacity="0.78"/>
<rect x="230.58" y="455.90" width="1.45" height="30.50" fill="#93DCFB" fill-opacity="0.78"/>
<rect x="234.18" y="464.40" width="1.45" height="22.00" fill="#86FA59" fill-opacity="0.78"/>
<rect x="236.78" y="457.20" width="1.45" height="29.20" fill="#86FA59" fill-opacity="0.78"/>
<rect x="237.47" y="465.10" width="1.45" height="21.30" fill="#93DCFB" fill-opacity="0.78"/>
<rect x="242.47" y="463.30" width="1.45" height="23.10" fill="#86FA59" fill-opacity="0.78"/>
<rect x="243.97" y="469.00" width="1.45" height="17.40" fill="#93DCFB" fill-opacity="0.78"/>
<rect x="266.97" y="467.00" width="1.45" height="19.40" fill="#93DCFB" fill-opacity="0.78"/>
<rect x="102.28" y="556.94" width="1.45" height="15.56" fill="#EF8E93" fill-opacity="0.78"/>
<rect x="119.28" y="554.70" width="1.45" height="17.80" fill="#EF8E93" fill-opacity="0.78"/>
<rect x="184.28" y="548.62" width="1.45" height="23.88" fill="#EF8E93" fill-opacity="0.78"/>
<rect x="191.28" y="551.10" width="1.45" height="21.40" fill="#93DCFB" fill-opacity="0.78"/>
<rect x="192.28" y="548.21" width="1.45" height="24.29" fill="#86FA59" fill-opacity="0.78"/>
<rect x="198.28" y="555.52" width="1.45" height="16.98" fill="#EF8E93" fill-opacity="0.78"/>
<rect x="204.28" y="554.86" width="1.45" height="17.64" fill="#EF8E93" fill-opacity="0.78"/>
<rect x="206.28" y="552.94" width="1.45" height="19.56" fill="#86FA59" fill-opacity="0.78"/>
<rect x="212.28" y="547.17" width="1.45" height="25.33" fill="#EF8E93" fill-opacity="0.78"/>
<rect x="215.28" y="549.20" width="1.45" height="23.30" fill="#86FA59" fill-opacity="0.78"/>
<rect x="217.28" y="554.89" width="1.45" height="17.61" fill="#EF8E93" fill-opacity="0.78"/>
<rect x="218.28" y="547.16" width="1.45" height="25.34" fill="#86FA59" fill-opacity="0.78"/>
<rect x="220.28" y="561.87" width="1.45" height="10.63" fill="#86FA59" fill-opacity="0.78"/>
<rect x="221.28" y="561.29" width="1.45" height="11.21" fill="#86FA59" fill-opacity="0.78"/>
<rect x="222.28" y="553.20" width="1.45" height="19.30" fill="#93DCFB" fill-opacity="0.78"/>
<rect x="228.28" y="556.69" width="1.45" height="15.81" fill="#93DCFB" fill-opacity="0.78"/>
<rect x="232.28" y="554.35" width="1.45" height="18.15" fill="#86FA59" fill-opacity="0.78"/>
<rect x="234.28" y="564.20" width="1.45" height="8.30" fill="#EF8E93" fill-opacity="0.78"/>
<rect x="243.28" y="554.63" width="1.45" height="17.87" fill="#86FA59" fill-opacity="0.78"/>
<rect x="86.68" y="556.90" width="1.45" height="15.60" fill="#EF8E93" fill-opacity="0.78"/>
<rect x="92.78" y="551.30" width="1.45" height="21.20" fill="#EF8E93" fill-opacity="0.78"/>
<rect x="95.68" y="545.10" width="1.45" height="27.40" fill="#86FA59" fill-opacity="0.78"/>
<rect x="99.18" y="556.40" width="1.45" height="16.10" fill="#EF8E93" fill-opacity="0.78"/>
<rect x="99.88" y="555.90" width="1.45" height="16.60" fill="#EF8E93" fill-opacity="0.78"/>
<rect x="103.58" y="531.90" width="1.45" height="40.60" fill="#EF8E93" fill-opacity="0.78"/>
<rect x="103.78" y="538.00" width="1.45" height="34.50" fill="#86FA59" fill-opacity="0.78"/>
<rect x="105.88" y="548.20" width="1.45" height="24.30" fill="#93DCFB" fill-opacity="0.78"/>
<rect x="106.68" y="553.80" width="1.45" height="18.70" fill="#EF8E93" fill-opacity="0.78"/>
<rect x="108.68" y="530.80" width="1.45" height="41.70" fill="#EF8E93" fill-opacity="0.78"/>
<rect x="109.98" y="540.50" width="1.45" height="32.00" fill="#EF8E93" fill-opacity="0.78"/>
<rect x="111.48" y="551.30" width="1.45" height="21.20" fill="#86FA59" fill-opacity="0.78"/>
<rect x="114.58" y="533.90" width="1.45" height="38.60" fill="#EF8E93" fill-opacity="0.78"/>
<rect x="115.58" y="534.90" width="1.45" height="37.60" fill="#EF8E93" fill-opacity="0.78"/>
<rect x="116.58" y="552.80" width="1.45" height="19.70" fill="#EF8E93" fill-opacity="0.78"/>
<rect x="117.88" y="554.90" width="1.45" height="17.60" fill="#93DCFB" fill-opacity="0.78"/>
<rect x="118.08" y="558.90" width="1.45" height="13.60" fill="#86FA59" fill-opacity="0.78"/>
<rect x="120.98" y="533.90" width="1.45" height="38.60" fill="#EF8E93" fill-opacity="0.78"/>
<rect x="121.98" y="539.00" width="1.45" height="33.50" fill="#EF8E93" fill-opacity="0.78"/>
<rect x="122.98" y="543.10" width="1.45" height="29.40" fill="#EF8E93" fill-opacity="0.78"/>
<rect x="124.78" y="518.60" width="1.45" height="53.90" fill="#EF8E93" fill-opacity="0.78"/>
<rect x="124.78" y="550.30" width="1.45" height="22.20" fill="#86FA59" fill-opacity="0.78"/>
<rect x="127.78" y="531.90" width="1.45" height="40.60" fill="#EF8E93" fill-opacity="0.78"/>
<rect x="128.88" y="532.90" width="1.45" height="39.60" fill="#93DCFB" fill-opacity="0.78"/>
<rect x="129.38" y="546.20" width="1.45" height="26.30" fill="#EF8E93" fill-opacity="0.78"/>
<rect x="129.88" y="533.90" width="1.45" height="38.60" fill="#86FA59" fill-opacity="0.78"/>
<rect x="130.88" y="551.80" width="1.45" height="20.70" fill="#86FA59" fill-opacity="0.78"/>
<rect x="131.58" y="528.80" width="1.45" height="43.70" fill="#EF8E93" fill-opacity="0.78"/>
<rect x="132.88" y="533.90" width="1.45" height="38.60" fill="#93DCFB" fill-opacity="0.78"/>
<rect x="133.68" y="538.00" width="1.45" height="34.50" fill="#EF8E93" fill-opacity="0.78"/>
<rect x="135.47" y="524.00" width="1.45" height="48.50" fill="#93DCFB" fill-opacity="0.78"/>
<rect x="134.97" y="542.60" width="1.45" height="29.90" fill="#86FA59" fill-opacity="0.78"/>
<rect x="136.47" y="543.10" width="1.45" height="29.40" fill="#EF8E93" fill-opacity="0.78"/>
<rect x="138.58" y="539.50" width="1.45" height="33.00" fill="#93DCFB" fill-opacity="0.78"/>
<rect x="139.58" y="536.50" width="1.45" height="36.00" fill="#86FA59" fill-opacity="0.78"/>
<rect x="141.08" y="545.10" width="1.45" height="27.40" fill="#93DCFB" fill-opacity="0.78"/>
<rect x="142.68" y="544.10" width="1.45" height="28.40" fill="#EF8E93" fill-opacity="0.78"/>
<rect x="143.88" y="553.30" width="1.45" height="19.20" fill="#93DCFB" fill-opacity="0.78"/>
<rect x="144.68" y="540.00" width="1.45" height="32.50" fill="#86FA59" fill-opacity="0.78"/>
<rect x="145.68" y="533.40" width="1.45" height="39.10" fill="#EF8E93" fill-opacity="0.78"/>
<rect x="147.28" y="541.10" width="1.45" height="31.40" fill="#86FA59" fill-opacity="0.78"/>
<rect x="148.28" y="542.10" width="1.45" height="30.40" fill="#93DCFB" fill-opacity="0.78"/>
<rect x="146.08" y="533.20" width="1.45" height="39.30" fill="#EF8E93" fill-opacity="0.78"/>
<rect x="147.18" y="541.30" width="1.45" height="31.20" fill="#86FA59" fill-opacity="0.78"/>
<rect x="148.68" y="542.00" width="1.45" height="30.50" fill="#93DCFB" fill-opacity="0.78"/>
<rect x="150.88" y="542.00" width="1.45" height="30.50" fill="#EF8E93" fill-opacity="0.78"/>
<rect x="152.28" y="541.30" width="1.45" height="31.20" fill="#86FA59" fill-opacity="0.78"/>
<rect x="153.78" y="542.70" width="1.45" height="29.80" fill="#86FA59" fill-opacity="0.78"/>
<rect x="155.18" y="536.20" width="1.45" height="36.30" fill="#93DCFB" fill-opacity="0.78"/>
<rect x="156.68" y="539.80" width="1.45" height="32.70" fill="#EF8E93" fill-opacity="0.78"/>
<rect x="157.68" y="538.40" width="1.45" height="34.10" fill="#EF8E93" fill-opacity="0.78"/>
<rect x="158.18" y="555.10" width="1.45" height="17.40" fill="#86FA59" fill-opacity="0.78"/>
<rect x="160.08" y="528.10" width="1.45" height="44.40" fill="#93DCFB" fill-opacity="0.78"/>
<rect x="161.78" y="526.70" width="1.45" height="45.80" fill="#93DCFB" fill-opacity="0.78"/>
<rect x="162.47" y="550.00" width="1.45" height="22.50" fill="#93DCFB" fill-opacity="0.78"/>
<rect x="164.68" y="549.30" width="1.45" height="23.20" fill="#86FA59" fill-opacity="0.78"/>
<rect x="166.18" y="544.90" width="1.45" height="27.60" fill="#93DCFB" fill-opacity="0.78"/>
<rect x="166.88" y="548.60" width="1.45" height="23.90" fill="#86FA59" fill-opacity="0.78"/>
<rect x="168.78" y="546.40" width="1.45" height="26.10" fill="#C994FC" fill-opacity="0.78"/>
<rect x="169.78" y="552.20" width="1.45" height="20.30" fill="#EF8E93" fill-opacity="0.78"/>
<rect x="172.78" y="526.00" width="1.45" height="46.50" fill="#86FA59" fill-opacity="0.78"/>
<rect x="174.18" y="553.70" width="1.45" height="18.80" fill="#86FA59" fill-opacity="0.78"/>
<rect x="171.97" y="550.80" width="1.45" height="21.70" fill="#EF8E93" fill-opacity="0.78"/>
<rect x="175.68" y="550.80" width="1.45" height="21.70" fill="#93DCFB" fill-opacity="0.78"/>
<rect x="177.08" y="544.90" width="1.45" height="27.60" fill="#86FA59" fill-opacity="0.78"/>
<rect x="178.97" y="539.80" width="1.45" height="32.70" fill="#93DCFB" fill-opacity="0.78"/>
<rect x="180.08" y="542.00" width="1.45" height="30.50" fill="#86FA59" fill-opacity="0.78"/>
<rect x="181.97" y="536.90" width="1.45" height="35.60" fill="#EF8E93" fill-opacity="0.78"/>
<rect x="182.97" y="548.60" width="1.45" height="23.90" fill="#C994FC" fill-opacity="0.78"/>
<rect x="185.88" y="555.90" width="1.45" height="16.60" fill="#93DCFB" fill-opacity="0.78"/>
<rect x="186.58" y="529.60" width="1.45" height="42.90" fill="#86FA59" fill-opacity="0.78"/>
<rect x="188.08" y="531.80" width="1.45" height="40.70" fill="#86FA59" fill-opacity="0.78"/>
<rect x="189.58" y="536.90" width="1.45" height="35.60" fill="#EF8E93" fill-opacity="0.78"/>
<rect x="193.18" y="531.80" width="1.45" height="40.70" fill="#93DCFB" fill-opacity="0.78"/>
<rect x="194.68" y="541.30" width="1.45" height="31.20" fill="#86FA59" fill-opacity="0.78"/>
<rect x="195.68" y="528.10" width="1.45" height="44.40" fill="#86FA59" fill-opacity="0.78"/>
<rect x="196.88" y="545.70" width="1.45" height="26.80" fill="#EF8E93" fill-opacity="0.78"/>
<rect x="200.47" y="544.20" width="1.45" height="28.30" fill="#86FA59" fill-opacity="0.78"/>
<rect x="202.38" y="528.10" width="1.45" height="44.40" fill="#86FA59" fill-opacity="0.78"/>
<rect x="207.78" y="539.10" width="1.45" height="33.40" fill="#86FA59" fill-opacity="0.78"/>
<rect x="208.97" y="537.60" width="1.45" height="34.90" fill="#86FA59" fill-opacity="0.78"/>
<rect x="210.68" y="552.20" width="1.45" height="20.30" fill="#86FA59" fill-opacity="0.78"/>
<rect x="213.58" y="534.00" width="1.45" height="38.50" fill="#93DCFB" fill-opacity="0.78"/>
<rect x="214.38" y="545.70" width="1.45" height="26.80" fill="#86FA59" fill-opacity="0.78"/>
<rect x="219.18" y="553.00" width="1.45" height="19.50" fill="#93DCFB" fill-opacity="0.78"/>
<rect x="223.58" y="549.30" width="1.45" height="23.20" fill="#93DCFB" fill-opacity="0.78"/>
<rect x="226.78" y="537.60" width="1.45" height="34.90" fill="#EF8E93" fill-opacity="0.78"/>
<rect x="229.68" y="532.50" width="1.45" height="40.00" fill="#86FA59" fill-opacity="0.78"/>
<rect x="231.18" y="542.00" width="1.45" height="30.50" fill="#EF8E93" fill-opacity="0.78"/>
<rect x="233.28" y="533.20" width="1.45" height="39.30" fill="#86FA59" fill-opacity="0.78"/>
<rect x="235.97" y="545.70" width="1.45" height="26.80" fill="#93DCFB" fill-opacity="0.78"/>
<rect x="237.68" y="549.30" width="1.45" height="23.20" fill="#93DCFB" fill-opacity="0.78"/>
<rect x="239.88" y="528.90" width="1.45" height="43.60" fill="#86FA59" fill-opacity="0.78"/>
<rect x="240.68" y="553.00" width="1.45" height="19.50" fill="#86FA59" fill-opacity="0.78"/>
<rect x="250.68" y="552.70" width="1.45" height="19.80" fill="#EF8E93" fill-opacity="0.78"/>
<rect x="268.47" y="552.70" width="1.45" height="19.80" fill="#93DCFB" fill-opacity="0.78"/>
<rect x="283.77" y="565.00" width="1.45" height="7.50" fill="#EF8E93" fill-opacity="0.78"/>
<rect x="293.97" y="568.00" width="1.45" height="4.50" fill="#93DCFB" fill-opacity="0.78"/>
<rect x="70.0" y="32.6" width="266.0" height="72.0" fill="none" stroke="#222" stroke-width="1.5"/>
<line x1="62.30" y1="32.60" x2="70.00" y2="32.60" stroke="#222" stroke-width="1.5"/>
<g transform="translate(44.33 36.95) scale(1.0500 1)"><text x="0" y="0" font-size="12.4" fill="#161616">10</text></g>
<line x1="62.30" y1="50.60" x2="70.00" y2="50.60" stroke="#222" stroke-width="1.5"/>
<g transform="translate(51.68 54.95) scale(1.0500 1)"><text x="0" y="0" font-size="12.4" fill="#161616">9</text></g>
<line x1="62.30" y1="68.60" x2="70.00" y2="68.60" stroke="#222" stroke-width="1.5"/>
<g transform="translate(51.68 72.95) scale(1.0500 1)"><text x="0" y="0" font-size="12.4" fill="#161616">8</text></g>
<line x1="62.30" y1="86.60" x2="70.00" y2="86.60" stroke="#222" stroke-width="1.5"/>
<g transform="translate(51.68 90.95) scale(1.0500 1)"><text x="0" y="0" font-size="12.4" fill="#161616">7</text></g>
<line x1="62.30" y1="104.60" x2="70.00" y2="104.60" stroke="#222" stroke-width="1.5"/>
<g transform="translate(51.68 108.95) scale(1.0500 1)"><text x="0" y="0" font-size="12.4" fill="#161616">6</text></g>
<line x1="70.00" y1="104.60" x2="70.00" y2="112.20" stroke="#222" stroke-width="1.5"/>
<line x1="82.09" y1="104.60" x2="82.09" y2="108.40" stroke="#222" stroke-width="1.5"/>
<line x1="94.18" y1="104.60" x2="94.18" y2="112.20" stroke="#222" stroke-width="1.5"/>
<line x1="106.27" y1="104.60" x2="106.27" y2="108.40" stroke="#222" stroke-width="1.5"/>
<line x1="118.36" y1="104.60" x2="118.36" y2="112.20" stroke="#222" stroke-width="1.5"/>
<line x1="130.45" y1="104.60" x2="130.45" y2="108.40" stroke="#222" stroke-width="1.5"/>
<line x1="142.55" y1="104.60" x2="142.55" y2="112.20" stroke="#222" stroke-width="1.5"/>
<line x1="154.64" y1="104.60" x2="154.64" y2="108.40" stroke="#222" stroke-width="1.5"/>
<line x1="166.73" y1="104.60" x2="166.73" y2="112.20" stroke="#222" stroke-width="1.5"/>
<line x1="178.82" y1="104.60" x2="178.82" y2="108.40" stroke="#222" stroke-width="1.5"/>
<line x1="190.91" y1="104.60" x2="190.91" y2="112.20" stroke="#222" stroke-width="1.5"/>
<line x1="203.00" y1="104.60" x2="203.00" y2="108.40" stroke="#222" stroke-width="1.5"/>
<line x1="215.09" y1="104.60" x2="215.09" y2="112.20" stroke="#222" stroke-width="1.5"/>
<line x1="227.18" y1="104.60" x2="227.18" y2="108.40" stroke="#222" stroke-width="1.5"/>
<line x1="239.27" y1="104.60" x2="239.27" y2="112.20" stroke="#222" stroke-width="1.5"/>
<line x1="251.36" y1="104.60" x2="251.36" y2="108.40" stroke="#222" stroke-width="1.5"/>
<line x1="263.45" y1="104.60" x2="263.45" y2="112.20" stroke="#222" stroke-width="1.5"/>
<line x1="275.55" y1="104.60" x2="275.55" y2="108.40" stroke="#222" stroke-width="1.5"/>
<line x1="287.64" y1="104.60" x2="287.64" y2="112.20" stroke="#222" stroke-width="1.5"/>
<line x1="299.73" y1="104.60" x2="299.73" y2="108.40" stroke="#222" stroke-width="1.5"/>
<line x1="311.82" y1="104.60" x2="311.82" y2="112.20" stroke="#222" stroke-width="1.5"/>
<line x1="323.91" y1="104.60" x2="323.91" y2="108.40" stroke="#222" stroke-width="1.5"/>
<line x1="336.00" y1="104.60" x2="336.00" y2="112.20" stroke="#222" stroke-width="1.5"/>
<rect x="70.0" y="118.5" width="266.0" height="72.4" fill="none" stroke="#222" stroke-width="1.5"/>
<line x1="62.30" y1="118.50" x2="70.00" y2="118.50" stroke="#222" stroke-width="1.5"/>
<g transform="translate(44.33 122.85) scale(1.0500 1)"><text x="0" y="0" font-size="12.4" fill="#161616">10</text></g>
<line x1="62.30" y1="136.60" x2="70.00" y2="136.60" stroke="#222" stroke-width="1.5"/>
<g transform="translate(51.68 140.95) scale(1.0500 1)"><text x="0" y="0" font-size="12.4" fill="#161616">9</text></g>
<line x1="62.30" y1="154.70" x2="70.00" y2="154.70" stroke="#222" stroke-width="1.5"/>
<g transform="translate(51.68 159.05) scale(1.0500 1)"><text x="0" y="0" font-size="12.4" fill="#161616">8</text></g>
<line x1="62.30" y1="172.80" x2="70.00" y2="172.80" stroke="#222" stroke-width="1.5"/>
<g transform="translate(51.68 177.15) scale(1.0500 1)"><text x="0" y="0" font-size="12.4" fill="#161616">7</text></g>
<line x1="62.30" y1="190.90" x2="70.00" y2="190.90" stroke="#222" stroke-width="1.5"/>
<g transform="translate(51.68 195.25) scale(1.0500 1)"><text x="0" y="0" font-size="12.4" fill="#161616">6</text></g>
<line x1="70.00" y1="190.90" x2="70.00" y2="198.50" stroke="#222" stroke-width="1.5"/>
<line x1="82.09" y1="190.90" x2="82.09" y2="194.70" stroke="#222" stroke-width="1.5"/>
<line x1="94.18" y1="190.90" x2="94.18" y2="198.50" stroke="#222" stroke-width="1.5"/>
<line x1="106.27" y1="190.90" x2="106.27" y2="194.70" stroke="#222" stroke-width="1.5"/>
<line x1="118.36" y1="190.90" x2="118.36" y2="198.50" stroke="#222" stroke-width="1.5"/>
<line x1="130.45" y1="190.90" x2="130.45" y2="194.70" stroke="#222" stroke-width="1.5"/>
<line x1="142.55" y1="190.90" x2="142.55" y2="198.50" stroke="#222" stroke-width="1.5"/>
<line x1="154.64" y1="190.90" x2="154.64" y2="194.70" stroke="#222" stroke-width="1.5"/>
<line x1="166.73" y1="190.90" x2="166.73" y2="198.50" stroke="#222" stroke-width="1.5"/>
<line x1="178.82" y1="190.90" x2="178.82" y2="194.70" stroke="#222" stroke-width="1.5"/>
<line x1="190.91" y1="190.90" x2="190.91" y2="198.50" stroke="#222" stroke-width="1.5"/>
<line x1="203.00" y1="190.90" x2="203.00" y2="194.70" stroke="#222" stroke-width="1.5"/>
<line x1="215.09" y1="190.90" x2="215.09" y2="198.50" stroke="#222" stroke-width="1.5"/>
<line x1="227.18" y1="190.90" x2="227.18" y2="194.70" stroke="#222" stroke-width="1.5"/>
<line x1="239.27" y1="190.90" x2="239.27" y2="198.50" stroke="#222" stroke-width="1.5"/>
<line x1="251.36" y1="190.90" x2="251.36" y2="194.70" stroke="#222" stroke-width="1.5"/>
<line x1="263.45" y1="190.90" x2="263.45" y2="198.50" stroke="#222" stroke-width="1.5"/>
<line x1="275.55" y1="190.90" x2="275.55" y2="194.70" stroke="#222" stroke-width="1.5"/>
<line x1="287.64" y1="190.90" x2="287.64" y2="198.50" stroke="#222" stroke-width="1.5"/>
<line x1="299.73" y1="190.90" x2="299.73" y2="194.70" stroke="#222" stroke-width="1.5"/>
<line x1="311.82" y1="190.90" x2="311.82" y2="198.50" stroke="#222" stroke-width="1.5"/>
<line x1="323.91" y1="190.90" x2="323.91" y2="194.70" stroke="#222" stroke-width="1.5"/>
<line x1="336.00" y1="190.90" x2="336.00" y2="198.50" stroke="#222" stroke-width="1.5"/>
<rect x="70.0" y="204.3" width="266.0" height="71.89999999999998" fill="none" stroke="#222" stroke-width="1.5"/>
<line x1="62.30" y1="204.30" x2="70.00" y2="204.30" stroke="#222" stroke-width="1.5"/>
<g transform="translate(44.33 208.65) scale(1.0500 1)"><text x="0" y="0" font-size="12.4" fill="#161616">10</text></g>
<line x1="62.30" y1="222.28" x2="70.00" y2="222.28" stroke="#222" stroke-width="1.5"/>
<g transform="translate(51.68 226.62) scale(1.0500 1)"><text x="0" y="0" font-size="12.4" fill="#161616">9</text></g>
<line x1="62.30" y1="240.25" x2="70.00" y2="240.25" stroke="#222" stroke-width="1.5"/>
<g transform="translate(51.68 244.60) scale(1.0500 1)"><text x="0" y="0" font-size="12.4" fill="#161616">8</text></g>
<line x1="62.30" y1="258.23" x2="70.00" y2="258.23" stroke="#222" stroke-width="1.5"/>
<g transform="translate(51.68 262.58) scale(1.0500 1)"><text x="0" y="0" font-size="12.4" fill="#161616">7</text></g>
<line x1="62.30" y1="276.20" x2="70.00" y2="276.20" stroke="#222" stroke-width="1.5"/>
<g transform="translate(51.68 280.55) scale(1.0500 1)"><text x="0" y="0" font-size="12.4" fill="#161616">6</text></g>
<line x1="70.00" y1="276.20" x2="70.00" y2="283.80" stroke="#222" stroke-width="1.5"/>
<line x1="82.09" y1="276.20" x2="82.09" y2="280.00" stroke="#222" stroke-width="1.5"/>
<line x1="94.18" y1="276.20" x2="94.18" y2="283.80" stroke="#222" stroke-width="1.5"/>
<line x1="106.27" y1="276.20" x2="106.27" y2="280.00" stroke="#222" stroke-width="1.5"/>
<line x1="118.36" y1="276.20" x2="118.36" y2="283.80" stroke="#222" stroke-width="1.5"/>
<line x1="130.45" y1="276.20" x2="130.45" y2="280.00" stroke="#222" stroke-width="1.5"/>
<line x1="142.55" y1="276.20" x2="142.55" y2="283.80" stroke="#222" stroke-width="1.5"/>
<line x1="154.64" y1="276.20" x2="154.64" y2="280.00" stroke="#222" stroke-width="1.5"/>
<line x1="166.73" y1="276.20" x2="166.73" y2="283.80" stroke="#222" stroke-width="1.5"/>
<line x1="178.82" y1="276.20" x2="178.82" y2="280.00" stroke="#222" stroke-width="1.5"/>
<line x1="190.91" y1="276.20" x2="190.91" y2="283.80" stroke="#222" stroke-width="1.5"/>
<line x1="203.00" y1="276.20" x2="203.00" y2="280.00" stroke="#222" stroke-width="1.5"/>
<line x1="215.09" y1="276.20" x2="215.09" y2="283.80" stroke="#222" stroke-width="1.5"/>
<line x1="227.18" y1="276.20" x2="227.18" y2="280.00" stroke="#222" stroke-width="1.5"/>
<line x1="239.27" y1="276.20" x2="239.27" y2="283.80" stroke="#222" stroke-width="1.5"/>
<line x1="251.36" y1="276.20" x2="251.36" y2="280.00" stroke="#222" stroke-width="1.5"/>
<line x1="263.45" y1="276.20" x2="263.45" y2="283.80" stroke="#222" stroke-width="1.5"/>
<line x1="275.55" y1="276.20" x2="275.55" y2="280.00" stroke="#222" stroke-width="1.5"/>
<line x1="287.64" y1="276.20" x2="287.64" y2="283.80" stroke="#222" stroke-width="1.5"/>
<line x1="299.73" y1="276.20" x2="299.73" y2="280.00" stroke="#222" stroke-width="1.5"/>
<line x1="311.82" y1="276.20" x2="311.82" y2="283.80" stroke="#222" stroke-width="1.5"/>
<line x1="323.91" y1="276.20" x2="323.91" y2="280.00" stroke="#222" stroke-width="1.5"/>
<line x1="336.00" y1="276.20" x2="336.00" y2="283.80" stroke="#222" stroke-width="1.5"/>
<rect x="70.0" y="327.7" width="266.0" height="72.19999999999999" fill="none" stroke="#222" stroke-width="1.5"/>
<line x1="62.30" y1="327.70" x2="70.00" y2="327.70" stroke="#222" stroke-width="1.5"/>
<g transform="translate(44.33 332.05) scale(1.0500 1)"><text x="0" y="0" font-size="12.4" fill="#161616">10</text></g>
<line x1="62.30" y1="342.14" x2="70.00" y2="342.14" stroke="#222" stroke-width="1.5"/>
<g transform="translate(51.68 346.49) scale(1.0500 1)"><text x="0" y="0" font-size="12.4" fill="#161616">9</text></g>
<line x1="62.30" y1="356.58" x2="70.00" y2="356.58" stroke="#222" stroke-width="1.5"/>
<g transform="translate(51.68 360.93) scale(1.0500 1)"><text x="0" y="0" font-size="12.4" fill="#161616">8</text></g>
<line x1="62.30" y1="371.02" x2="70.00" y2="371.02" stroke="#222" stroke-width="1.5"/>
<g transform="translate(51.68 375.37) scale(1.0500 1)"><text x="0" y="0" font-size="12.4" fill="#161616">7</text></g>
<line x1="62.30" y1="385.46" x2="70.00" y2="385.46" stroke="#222" stroke-width="1.5"/>
<g transform="translate(51.68 389.81) scale(1.0500 1)"><text x="0" y="0" font-size="12.4" fill="#161616">6</text></g>
<line x1="62.30" y1="399.90" x2="70.00" y2="399.90" stroke="#222" stroke-width="1.5"/>
<g transform="translate(51.58 404.25) scale(1.0500 1)"><text x="0" y="0" font-size="12.4" fill="#161616">5</text></g>
<line x1="70.00" y1="399.90" x2="70.00" y2="407.50" stroke="#222" stroke-width="1.5"/>
<line x1="82.09" y1="399.90" x2="82.09" y2="403.70" stroke="#222" stroke-width="1.5"/>
<line x1="94.18" y1="399.90" x2="94.18" y2="407.50" stroke="#222" stroke-width="1.5"/>
<line x1="106.27" y1="399.90" x2="106.27" y2="403.70" stroke="#222" stroke-width="1.5"/>
<line x1="118.36" y1="399.90" x2="118.36" y2="407.50" stroke="#222" stroke-width="1.5"/>
<line x1="130.45" y1="399.90" x2="130.45" y2="403.70" stroke="#222" stroke-width="1.5"/>
<line x1="142.55" y1="399.90" x2="142.55" y2="407.50" stroke="#222" stroke-width="1.5"/>
<line x1="154.64" y1="399.90" x2="154.64" y2="403.70" stroke="#222" stroke-width="1.5"/>
<line x1="166.73" y1="399.90" x2="166.73" y2="407.50" stroke="#222" stroke-width="1.5"/>
<line x1="178.82" y1="399.90" x2="178.82" y2="403.70" stroke="#222" stroke-width="1.5"/>
<line x1="190.91" y1="399.90" x2="190.91" y2="407.50" stroke="#222" stroke-width="1.5"/>
<line x1="203.00" y1="399.90" x2="203.00" y2="403.70" stroke="#222" stroke-width="1.5"/>
<line x1="215.09" y1="399.90" x2="215.09" y2="407.50" stroke="#222" stroke-width="1.5"/>
<line x1="227.18" y1="399.90" x2="227.18" y2="403.70" stroke="#222" stroke-width="1.5"/>
<line x1="239.27" y1="399.90" x2="239.27" y2="407.50" stroke="#222" stroke-width="1.5"/>
<line x1="251.36" y1="399.90" x2="251.36" y2="403.70" stroke="#222" stroke-width="1.5"/>
<line x1="263.45" y1="399.90" x2="263.45" y2="407.50" stroke="#222" stroke-width="1.5"/>
<line x1="275.55" y1="399.90" x2="275.55" y2="403.70" stroke="#222" stroke-width="1.5"/>
<line x1="287.64" y1="399.90" x2="287.64" y2="407.50" stroke="#222" stroke-width="1.5"/>
<line x1="299.73" y1="399.90" x2="299.73" y2="403.70" stroke="#222" stroke-width="1.5"/>
<line x1="311.82" y1="399.90" x2="311.82" y2="407.50" stroke="#222" stroke-width="1.5"/>
<line x1="323.91" y1="399.90" x2="323.91" y2="403.70" stroke="#222" stroke-width="1.5"/>
<line x1="336.00" y1="399.90" x2="336.00" y2="407.50" stroke="#222" stroke-width="1.5"/>
<rect x="70.0" y="414.3" width="266.0" height="72.09999999999997" fill="none" stroke="#222" stroke-width="1.5"/>
<line x1="62.30" y1="414.30" x2="70.00" y2="414.30" stroke="#222" stroke-width="1.5"/>
<g transform="translate(44.33 418.65) scale(1.0500 1)"><text x="0" y="0" font-size="12.4" fill="#161616">10</text></g>
<line x1="62.30" y1="428.72" x2="70.00" y2="428.72" stroke="#222" stroke-width="1.5"/>
<g transform="translate(51.68 433.07) scale(1.0500 1)"><text x="0" y="0" font-size="12.4" fill="#161616">9</text></g>
<line x1="62.30" y1="443.14" x2="70.00" y2="443.14" stroke="#222" stroke-width="1.5"/>
<g transform="translate(51.68 447.49) scale(1.0500 1)"><text x="0" y="0" font-size="12.4" fill="#161616">8</text></g>
<line x1="62.30" y1="457.56" x2="70.00" y2="457.56" stroke="#222" stroke-width="1.5"/>
<g transform="translate(51.68 461.91) scale(1.0500 1)"><text x="0" y="0" font-size="12.4" fill="#161616">7</text></g>
<line x1="62.30" y1="471.98" x2="70.00" y2="471.98" stroke="#222" stroke-width="1.5"/>
<g transform="translate(51.68 476.33) scale(1.0500 1)"><text x="0" y="0" font-size="12.4" fill="#161616">6</text></g>
<line x1="62.30" y1="486.40" x2="70.00" y2="486.40" stroke="#222" stroke-width="1.5"/>
<g transform="translate(51.58 490.75) scale(1.0500 1)"><text x="0" y="0" font-size="12.4" fill="#161616">5</text></g>
<line x1="70.00" y1="486.40" x2="70.00" y2="494.00" stroke="#222" stroke-width="1.5"/>
<line x1="82.09" y1="486.40" x2="82.09" y2="490.20" stroke="#222" stroke-width="1.5"/>
<line x1="94.18" y1="486.40" x2="94.18" y2="494.00" stroke="#222" stroke-width="1.5"/>
<line x1="106.27" y1="486.40" x2="106.27" y2="490.20" stroke="#222" stroke-width="1.5"/>
<line x1="118.36" y1="486.40" x2="118.36" y2="494.00" stroke="#222" stroke-width="1.5"/>
<line x1="130.45" y1="486.40" x2="130.45" y2="490.20" stroke="#222" stroke-width="1.5"/>
<line x1="142.55" y1="486.40" x2="142.55" y2="494.00" stroke="#222" stroke-width="1.5"/>
<line x1="154.64" y1="486.40" x2="154.64" y2="490.20" stroke="#222" stroke-width="1.5"/>
<line x1="166.73" y1="486.40" x2="166.73" y2="494.00" stroke="#222" stroke-width="1.5"/>
<line x1="178.82" y1="486.40" x2="178.82" y2="490.20" stroke="#222" stroke-width="1.5"/>
<line x1="190.91" y1="486.40" x2="190.91" y2="494.00" stroke="#222" stroke-width="1.5"/>
<line x1="203.00" y1="486.40" x2="203.00" y2="490.20" stroke="#222" stroke-width="1.5"/>
<line x1="215.09" y1="486.40" x2="215.09" y2="494.00" stroke="#222" stroke-width="1.5"/>
<line x1="227.18" y1="486.40" x2="227.18" y2="490.20" stroke="#222" stroke-width="1.5"/>
<line x1="239.27" y1="486.40" x2="239.27" y2="494.00" stroke="#222" stroke-width="1.5"/>
<line x1="251.36" y1="486.40" x2="251.36" y2="490.20" stroke="#222" stroke-width="1.5"/>
<line x1="263.45" y1="486.40" x2="263.45" y2="494.00" stroke="#222" stroke-width="1.5"/>
<line x1="275.55" y1="486.40" x2="275.55" y2="490.20" stroke="#222" stroke-width="1.5"/>
<line x1="287.64" y1="486.40" x2="287.64" y2="494.00" stroke="#222" stroke-width="1.5"/>
<line x1="299.73" y1="486.40" x2="299.73" y2="490.20" stroke="#222" stroke-width="1.5"/>
<line x1="311.82" y1="486.40" x2="311.82" y2="494.00" stroke="#222" stroke-width="1.5"/>
<line x1="323.91" y1="486.40" x2="323.91" y2="490.20" stroke="#222" stroke-width="1.5"/>
<line x1="336.00" y1="486.40" x2="336.00" y2="494.00" stroke="#222" stroke-width="1.5"/>
<rect x="70.0" y="500.8" width="266.0" height="71.69999999999999" fill="none" stroke="#222" stroke-width="1.5"/>
<line x1="62.30" y1="500.80" x2="70.00" y2="500.80" stroke="#222" stroke-width="1.5"/>
<g transform="translate(44.33 505.15) scale(1.0500 1)"><text x="0" y="0" font-size="12.4" fill="#161616">10</text></g>
<line x1="62.30" y1="515.14" x2="70.00" y2="515.14" stroke="#222" stroke-width="1.5"/>
<g transform="translate(51.68 519.49) scale(1.0500 1)"><text x="0" y="0" font-size="12.4" fill="#161616">9</text></g>
<line x1="62.30" y1="529.48" x2="70.00" y2="529.48" stroke="#222" stroke-width="1.5"/>
<g transform="translate(51.68 533.83) scale(1.0500 1)"><text x="0" y="0" font-size="12.4" fill="#161616">8</text></g>
<line x1="62.30" y1="543.82" x2="70.00" y2="543.82" stroke="#222" stroke-width="1.5"/>
<g transform="translate(51.68 548.17) scale(1.0500 1)"><text x="0" y="0" font-size="12.4" fill="#161616">7</text></g>
<line x1="62.30" y1="558.16" x2="70.00" y2="558.16" stroke="#222" stroke-width="1.5"/>
<g transform="translate(51.68 562.51) scale(1.0500 1)"><text x="0" y="0" font-size="12.4" fill="#161616">6</text></g>
<line x1="62.30" y1="572.50" x2="70.00" y2="572.50" stroke="#222" stroke-width="1.5"/>
<g transform="translate(51.58 576.85) scale(1.0500 1)"><text x="0" y="0" font-size="12.4" fill="#161616">5</text></g>
<line x1="70.00" y1="572.50" x2="70.00" y2="580.10" stroke="#222" stroke-width="1.5"/>
<line x1="82.09" y1="572.50" x2="82.09" y2="576.30" stroke="#222" stroke-width="1.5"/>
<line x1="94.18" y1="572.50" x2="94.18" y2="580.10" stroke="#222" stroke-width="1.5"/>
<line x1="106.27" y1="572.50" x2="106.27" y2="576.30" stroke="#222" stroke-width="1.5"/>
<line x1="118.36" y1="572.50" x2="118.36" y2="580.10" stroke="#222" stroke-width="1.5"/>
<line x1="130.45" y1="572.50" x2="130.45" y2="576.30" stroke="#222" stroke-width="1.5"/>
<line x1="142.55" y1="572.50" x2="142.55" y2="580.10" stroke="#222" stroke-width="1.5"/>
<line x1="154.64" y1="572.50" x2="154.64" y2="576.30" stroke="#222" stroke-width="1.5"/>
<line x1="166.73" y1="572.50" x2="166.73" y2="580.10" stroke="#222" stroke-width="1.5"/>
<line x1="178.82" y1="572.50" x2="178.82" y2="576.30" stroke="#222" stroke-width="1.5"/>
<line x1="190.91" y1="572.50" x2="190.91" y2="580.10" stroke="#222" stroke-width="1.5"/>
<line x1="203.00" y1="572.50" x2="203.00" y2="576.30" stroke="#222" stroke-width="1.5"/>
<line x1="215.09" y1="572.50" x2="215.09" y2="580.10" stroke="#222" stroke-width="1.5"/>
<line x1="227.18" y1="572.50" x2="227.18" y2="576.30" stroke="#222" stroke-width="1.5"/>
<line x1="239.27" y1="572.50" x2="239.27" y2="580.10" stroke="#222" stroke-width="1.5"/>
<line x1="251.36" y1="572.50" x2="251.36" y2="576.30" stroke="#222" stroke-width="1.5"/>
<line x1="263.45" y1="572.50" x2="263.45" y2="580.10" stroke="#222" stroke-width="1.5"/>
<line x1="275.55" y1="572.50" x2="275.55" y2="576.30" stroke="#222" stroke-width="1.5"/>
<line x1="287.64" y1="572.50" x2="287.64" y2="580.10" stroke="#222" stroke-width="1.5"/>
<line x1="299.73" y1="572.50" x2="299.73" y2="576.30" stroke="#222" stroke-width="1.5"/>
<line x1="311.82" y1="572.50" x2="311.82" y2="580.10" stroke="#222" stroke-width="1.5"/>
<line x1="323.91" y1="572.50" x2="323.91" y2="576.30" stroke="#222" stroke-width="1.5"/>
<line x1="336.00" y1="572.50" x2="336.00" y2="580.10" stroke="#222" stroke-width="1.5"/>
<g transform="translate(62.75 298.90) scale(1.0500 1)"><text x="0" y="0" font-size="12.4" fill="#161616">50</text></g>
<g transform="translate(62.75 596.30) scale(1.0500 1)"><text x="0" y="0" font-size="12.4" fill="#161616">50</text></g>
<g transform="translate(83.05 298.90) scale(1.0500 1)"><text x="0" y="0" font-size="12.4" fill="#161616">100</text></g>
<g transform="translate(83.05 596.30) scale(1.0500 1)"><text x="0" y="0" font-size="12.4" fill="#161616">100</text></g>
<g transform="translate(107.23 298.90) scale(1.0500 1)"><text x="0" y="0" font-size="12.4" fill="#161616">150</text></g>
<g transform="translate(107.23 596.30) scale(1.0500 1)"><text x="0" y="0" font-size="12.4" fill="#161616">150</text></g>
<g transform="translate(131.63 298.90) scale(1.0500 1)"><text x="0" y="0" font-size="12.4" fill="#161616">200</text></g>
<g transform="translate(131.63 596.30) scale(1.0500 1)"><text x="0" y="0" font-size="12.4" fill="#161616">200</text></g>
<g transform="translate(155.81 298.90) scale(1.0500 1)"><text x="0" y="0" font-size="12.4" fill="#161616">250</text></g>
<g transform="translate(155.81 596.30) scale(1.0500 1)"><text x="0" y="0" font-size="12.4" fill="#161616">250</text></g>
<g transform="translate(180.04 298.90) scale(1.0500 1)"><text x="0" y="0" font-size="12.4" fill="#161616">300</text></g>
<g transform="translate(180.04 596.30) scale(1.0500 1)"><text x="0" y="0" font-size="12.4" fill="#161616">300</text></g>
<g transform="translate(204.22 298.90) scale(1.0500 1)"><text x="0" y="0" font-size="12.4" fill="#161616">350</text></g>
<g transform="translate(204.22 596.30) scale(1.0500 1)"><text x="0" y="0" font-size="12.4" fill="#161616">350</text></g>
<g transform="translate(228.51 298.90) scale(1.0500 1)"><text x="0" y="0" font-size="12.4" fill="#161616">400</text></g>
<g transform="translate(228.51 596.30) scale(1.0500 1)"><text x="0" y="0" font-size="12.4" fill="#161616">400</text></g>
<g transform="translate(252.69 298.90) scale(1.0500 1)"><text x="0" y="0" font-size="12.4" fill="#161616">450</text></g>
<g transform="translate(252.69 596.30) scale(1.0500 1)"><text x="0" y="0" font-size="12.4" fill="#161616">450</text></g>
<g transform="translate(276.77 298.90) scale(1.0500 1)"><text x="0" y="0" font-size="12.4" fill="#161616">500</text></g>
<g transform="translate(276.77 596.30) scale(1.0500 1)"><text x="0" y="0" font-size="12.4" fill="#161616">500</text></g>
<g transform="translate(300.95 298.90) scale(1.0500 1)"><text x="0" y="0" font-size="12.4" fill="#161616">550</text></g>
<g transform="translate(300.95 596.30) scale(1.0500 1)"><text x="0" y="0" font-size="12.4" fill="#161616">550</text></g>
<g transform="translate(325.08 298.90) scale(1.0500 1)"><text x="0" y="0" font-size="12.4" fill="#161616">600</text></g>
<g transform="translate(325.08 596.30) scale(1.0500 1)"><text x="0" y="0" font-size="12.4" fill="#161616">600</text></g>
<g transform="translate(166.13 618.60) scale(1.0686 1)"><text x="0" y="0" font-size="12.4" fill="#161616">Mass (Da)</text></g>
<g transform="translate(11.20 204.28) rotate(-90) scale(1.0764 1)"><text x="0" y="0" font-size="12.3" fill="#161616">Log (peak area)</text></g>
<g transform="translate(11.20 497.68) rotate(-90) scale(1.0776 1)"><text x="0" y="0" font-size="12.3" fill="#161616">Log (peak area)</text></g>
<g transform="translate(27.60 92.91) rotate(-90) scale(1.0085 1)"><text x="0" y="0" font-size="12.3" fill="#161616">Class 1+</text></g>
<g transform="translate(43.20 97.55) rotate(-90) scale(1.0672 1)"><text x="0" y="0" font-size="12.3" fill="#161616">(POA-like)</text></g>
<g transform="translate(27.60 179.00) rotate(-90) scale(1.0043 1)"><text x="0" y="0" font-size="12.3" fill="#161616">Class 2+</text></g>
<g transform="translate(43.60 192.55) rotate(-90) scale(1.1880 1)"><text x="0" y="0" font-size="12.3" fill="#161616">(BBOA-like)</text></g>
<g transform="translate(27.60 268.81) rotate(-90) scale(1.0128 1)"><text x="0" y="0" font-size="12.3" fill="#161616">Class 3+</text></g>
<g transform="translate(43.60 274.16) rotate(-90) scale(1.0744 1)"><text x="0" y="0" font-size="12.3" fill="#161616">(SOA-like)</text></g>
<g transform="translate(27.40 388.53) rotate(-90) scale(1.0568 1)"><text x="0" y="0" font-size="12.3" fill="#161616">Class 1-</text></g>
<g transform="translate(43.20 394.85) rotate(-90) scale(1.0653 1)"><text x="0" y="0" font-size="12.3" fill="#161616">(POA-like)</text></g>
<g transform="translate(27.60 473.13) rotate(-90) scale(1.0545 1)"><text x="0" y="0" font-size="12.3" fill="#161616">Class 2-</text></g>
<g transform="translate(43.60 485.94) rotate(-90) scale(1.1754 1)"><text x="0" y="0" font-size="12.3" fill="#161616">(BBOA-like)</text></g>
<g transform="translate(27.60 563.82) rotate(-90) scale(1.0318 1)"><text x="0" y="0" font-size="12.3" fill="#161616">Class 3-</text></g>
<g transform="translate(43.60 571.36) rotate(-90) scale(1.0744 1)"><text x="0" y="0" font-size="12.3" fill="#161616">(SOA-like)</text></g>
<g transform="translate(7.27 13.70) scale(1.0336 1)"><text x="0" y="0" font-size="13.5" fill="#161616">(a)</text></g>
<g transform="translate(9.27 316.60) scale(1.0336 1)"><text x="0" y="0" font-size="13.5" fill="#161616">(b)</text></g>
<g transform="translate(662.27 14.20) scale(1.0426 1)"><text x="0" y="0" font-size="13.5" fill="#161616">(c)</text></g>
<g transform="translate(666.37 320.20) scale(1.0336 1)"><text x="0" y="0" font-size="13.5" fill="#161616">(d)</text></g>
<rect x="80.00" y="1.00" width="22.60" height="10.80" fill="url(#lhg)"/>
<rect x="80.00" y="16.30" width="22.60" height="10.60" fill="url(#lhb)"/>
<rect x="171.00" y="1.10" width="22.00" height="10.70" fill="#DAAE3C"/>
<rect x="170.20" y="16.10" width="22.40" height="10.60" fill="#93DCFB"/>
<rect x="255.80" y="1.10" width="22.10" height="10.60" fill="#EF8E93"/>
<rect x="260.20" y="16.10" width="22.00" height="10.80" fill="#C994FC"/>
<g transform="translate(105.98 9.50) scale(1.0322 1)"><text x="0" y="0" font-size="10.2" fill="#161616">CHN<tspan font-size="9.5" dy="3.0">&lt;</tspan><tspan font-size="7.0">180 Da</tspan></text></g>
<g transform="translate(105.98 24.70) scale(1.0330 1)"><text x="0" y="0" font-size="10.2" fill="#161616">CHON<tspan font-size="9.5" dy="3.0">&lt;</tspan><tspan font-size="7.0">275 Da</tspan></text></g>
<g transform="translate(196.58 9.50) scale(1.0423 1)"><text x="0" y="0" font-size="10.2" fill="#161616">CHN<tspan font-size="9.5" dy="3.0">&gt;</tspan><tspan font-size="7.0">180 Da</tspan></text></g>
<g transform="translate(196.01 24.70) scale(0.9844 1)"><text x="0" y="0" font-size="10.2" fill="#161616">CHON<tspan font-size="9.5" dy="3.0">&gt;</tspan><tspan font-size="7.0">275 Da</tspan></text></g>
<g transform="translate(281.60 9.50) scale(1.0092 1)"><text x="0" y="0" font-size="10.2" fill="#161616">CHO</text></g>
<g transform="translate(286.00 24.70) scale(1.0084 1)"><text x="0" y="0" font-size="10.2" fill="#161616">CHONS</text></g>
<rect x="72.50" y="310.90" width="26.00" height="11.90" fill="#EF8E93"/>
<g transform="translate(102.06 320.30) scale(1.0600 1)"><text x="0" y="0" font-size="11.3" fill="#161616">CHO</text></g>
<rect x="130.30" y="310.90" width="26.00" height="11.90" fill="#93DCFB"/>
<g transform="translate(159.86 320.30) scale(1.0600 1)"><text x="0" y="0" font-size="11.3" fill="#161616">CHON</text></g>
<rect x="196.10" y="310.90" width="26.00" height="11.90" fill="#86FA59"/>
<g transform="translate(225.66 320.30) scale(1.0600 1)"><text x="0" y="0" font-size="11.3" fill="#161616">CHOS</text></g>
<rect x="261.50" y="310.90" width="26.00" height="11.90" fill="#C994FC"/>
<g transform="translate(291.06 320.30) scale(1.0600 1)"><text x="0" y="0" font-size="11.3" fill="#161616">CHONS</text></g>
<g transform="translate(79.10 49.60) scale(1.0035 1)"><text x="0" y="0" font-size="12.2" fill="#161616">C<tspan font-size="8.2" dy="2.9">12</tspan><tspan dy="-2.9">H</tspan><tspan font-size="8.2" dy="2.9">27</tspan><tspan dy="-2.9">O</tspan><tspan font-size="8.2" dy="2.9">2</tspan><tspan dy="-2.9">N</tspan></text></g>
<g transform="translate(137.70 43.40) scale(1.0038 1)"><text x="0" y="0" font-size="12.2" fill="#161616">C<tspan font-size="8.2" dy="2.9">14</tspan><tspan dy="-2.9">H</tspan><tspan font-size="8.2" dy="2.9">31</tspan><tspan dy="-2.9">ON</tspan></text></g>
<g transform="translate(186.11 63.40) scale(0.9837 1)"><text x="0" y="0" font-size="12.2" fill="#161616">C<tspan font-size="8.2" dy="2.9">16</tspan><tspan dy="-2.9">H</tspan><tspan font-size="8.2" dy="2.9">22</tspan><tspan dy="-2.9">O</tspan><tspan font-size="8.2" dy="2.9">4</tspan></text></g>
<g transform="translate(71.90 132.00) scale(1.0026 1)"><text x="0" y="0" font-size="12.2" fill="#161616">C<tspan font-size="8.2" dy="2.9">8</tspan><tspan dy="-2.9">H</tspan><tspan font-size="8.2" dy="2.9">19</tspan><tspan dy="-2.9">N</tspan></text></g>
<g transform="translate(115.80 140.50) scale(0.9982 1)"><text x="0" y="0" font-size="12.2" fill="#161616">C<tspan font-size="8.2" dy="2.9">16</tspan><tspan dy="-2.9">H</tspan><tspan font-size="8.2" dy="2.9">35</tspan><tspan dy="-2.9">O</tspan><tspan font-size="8.2" dy="2.9">2</tspan><tspan dy="-2.9">N</tspan></text></g>
<g transform="translate(201.20 131.30) scale(0.9947 1)"><text x="0" y="0" font-size="12.2" fill="#161616">C<tspan font-size="8.2" dy="2.9">18</tspan><tspan dy="-2.9">H</tspan><tspan font-size="8.2" dy="2.9">39</tspan><tspan dy="-2.9">O</tspan><tspan font-size="8.2" dy="2.9">3</tspan><tspan dy="-2.9">N</tspan></text></g>
<g transform="translate(185.39 147.00) scale(1.0095 1)"><text x="0" y="0" font-size="12.2" fill="#161616">C<tspan font-size="8.2" dy="2.9">18</tspan><tspan dy="-2.9">H</tspan><tspan font-size="8.2" dy="2.9">33</tspan><tspan dy="-2.9">ON</tspan></text></g>
<g transform="translate(121.00 217.10) scale(1.0000 1)"><text x="0" y="0" font-size="12.2" fill="#161616">C<tspan font-size="8.2" dy="2.9">18</tspan><tspan dy="-2.9">H</tspan><tspan font-size="8.2" dy="2.9">35</tspan><tspan dy="-2.9">ON</tspan></text></g>
<g transform="translate(120.99 233.60) scale(1.0095 1)"><text x="0" y="0" font-size="12.2" fill="#161616">C<tspan font-size="8.2" dy="2.9">18</tspan><tspan dy="-2.9">H</tspan><tspan font-size="8.2" dy="2.9">37</tspan><tspan dy="-2.9">ON</tspan></text></g>
<g transform="translate(208.50 220.50) scale(1.0076 1)"><text x="0" y="0" font-size="12.2" fill="#161616">C<tspan font-size="8.2" dy="2.9">20</tspan><tspan dy="-2.9">H</tspan><tspan font-size="8.2" dy="2.9">41</tspan><tspan dy="-2.9">ON</tspan></text></g>
<g transform="translate(71.89 343.40) scale(1.0096 1)"><text x="0" y="0" font-size="12.2" fill="#161616">C<tspan font-size="8.2" dy="2.9">5</tspan><tspan dy="-2.9">H</tspan><tspan font-size="8.2" dy="2.9">12</tspan><tspan dy="-2.9">O</tspan><tspan font-size="8.2" dy="2.9">4</tspan><tspan dy="-2.9">S</tspan></text></g>
<g transform="translate(134.22 343.40) scale(0.9732 1)"><text x="0" y="0" font-size="12.2" fill="#161616">C<tspan font-size="8.2" dy="2.9">7</tspan><tspan dy="-2.9">H</tspan><tspan font-size="8.2" dy="2.9">16</tspan><tspan dy="-2.9">O</tspan><tspan font-size="8.2" dy="2.9">4</tspan><tspan dy="-2.9">S</tspan></text></g>
<g transform="translate(192.00 346.50) scale(1.0041 1)"><text x="0" y="0" font-size="12.2" fill="#161616">C<tspan font-size="8.2" dy="2.9">29</tspan><tspan dy="-2.9">H</tspan><tspan font-size="8.2" dy="2.9">44</tspan><tspan dy="-2.9">O</tspan><tspan font-size="8.2" dy="2.9">2</tspan></text></g>
<g transform="translate(71.10 427.10) scale(0.9958 1)"><text x="0" y="0" font-size="12.2" fill="#161616">C<tspan font-size="8.2" dy="2.9">6</tspan><tspan dy="-2.9">H</tspan><tspan font-size="8.2" dy="2.9">5</tspan><tspan dy="-2.9">O</tspan><tspan font-size="8.2" dy="2.9">3</tspan><tspan dy="-2.9">N</tspan></text></g>
<g transform="translate(133.60 427.10) scale(1.0083 1)"><text x="0" y="0" font-size="12.2" fill="#161616">C<tspan font-size="8.2" dy="2.9">6</tspan><tspan dy="-2.9">H</tspan><tspan font-size="8.2" dy="2.9">5</tspan><tspan dy="-2.9">O</tspan><tspan font-size="8.2" dy="2.9">4</tspan><tspan dy="-2.9">N</tspan></text></g>
<g transform="translate(135.49 440.20) scale(1.0229 1)"><text x="0" y="0" font-size="12.2" fill="#161616">C<tspan font-size="8.2" dy="2.9">7</tspan><tspan dy="-2.9">H</tspan><tspan font-size="8.2" dy="2.9">7</tspan><tspan dy="-2.9">O</tspan><tspan font-size="8.2" dy="2.9">3</tspan><tspan dy="-2.9">N</tspan></text></g>
<g transform="translate(76.91 517.30) scale(0.9875 1)"><text x="0" y="0" font-size="12.2" fill="#161616">C<tspan font-size="8.2" dy="2.9">8</tspan><tspan dy="-2.9">H</tspan><tspan font-size="8.2" dy="2.9">6</tspan><tspan dy="-2.9">O</tspan><tspan font-size="8.2" dy="2.9">4</tspan></text></g>
<g transform="translate(120.21 511.30) scale(0.9865 1)"><text x="0" y="0" font-size="12.2" fill="#161616">C<tspan font-size="8.2" dy="2.9">9</tspan><tspan dy="-2.9">H</tspan><tspan font-size="8.2" dy="2.9">16</tspan><tspan dy="-2.9">O</tspan><tspan font-size="8.2" dy="2.9">4</tspan></text></g>
<g transform="translate(155.20 524.40) scale(1.0000 1)"><text x="0" y="0" font-size="12.2" fill="#161616">C<tspan font-size="8.2" dy="2.9">7</tspan><tspan dy="-2.9">H</tspan><tspan font-size="8.2" dy="2.9">14</tspan><tspan dy="-2.9">O</tspan><tspan font-size="8.2" dy="2.9">3</tspan><tspan dy="-2.9">N</tspan><tspan font-size="8.2" dy="2.9">3</tspan></text></g>
<line x1="137.50" y1="47.60" x2="151.00" y2="48.90" stroke="#444" stroke-width="0.6"/>
<line x1="168.00" y1="48.40" x2="158.00" y2="51.30" stroke="#444" stroke-width="0.6"/>
<line x1="182.00" y1="50.20" x2="186.00" y2="53.10" stroke="#444" stroke-width="0.6"/>
<line x1="109.00" y1="134.50" x2="111.00" y2="131.20" stroke="#444" stroke-width="0.6"/>
<line x1="174.10" y1="129.40" x2="177.90" y2="127.00" stroke="#444" stroke-width="0.6"/>
<line x1="181.50" y1="138.00" x2="185.00" y2="142.50" stroke="#444" stroke-width="0.6"/>
<line x1="199.60" y1="131.40" x2="201.30" y2="128.40" stroke="#444" stroke-width="0.6"/>
<line x1="175.60" y1="209.40" x2="182.20" y2="205.20" stroke="#444" stroke-width="0.6"/>
<line x1="175.00" y1="223.20" x2="182.50" y2="207.00" stroke="#444" stroke-width="0.6"/>
<line x1="198.20" y1="207.20" x2="208.20" y2="209.40" stroke="#444" stroke-width="0.6"/>
<line x1="160.30" y1="348.00" x2="141.00" y2="357.20" stroke="#444" stroke-width="0.6"/>
<line x1="242.20" y1="351.30" x2="249.80" y2="356.60" stroke="#444" stroke-width="0.6"/>
<line x1="125.20" y1="348.20" x2="126.00" y2="349.60" stroke="#444" stroke-width="0.6"/>
<line x1="121.10" y1="433.50" x2="133.80" y2="431.30" stroke="#444" stroke-width="0.6"/>
<line x1="121.10" y1="433.50" x2="134.90" y2="437.10" stroke="#444" stroke-width="0.6"/>
<line x1="119.30" y1="515.00" x2="124.80" y2="517.80" stroke="#444" stroke-width="0.6"/>
<line x1="137.20" y1="522.70" x2="142.50" y2="517.00" stroke="#444" stroke-width="0.6"/>
<line x1="137.20" y1="522.70" x2="150.50" y2="521.60" stroke="#444" stroke-width="0.6"/>
<path d="M291.50,68.60 L276.80,43.84 A28.8,28.8 0 0 1 316.31,83.22 Z" fill="url(#hb)" stroke="#fff" stroke-width="0.6" stroke-linejoin="round"/>
<path d="M291.50,68.60 L316.31,83.22 A28.8,28.8 0 0 1 301.82,95.49 Z" fill="#C994FC" stroke="#fff" stroke-width="0.6" stroke-linejoin="round"/>
<path d="M291.50,68.60 L301.82,95.49 A28.8,28.8 0 0 1 299.44,96.28 Z" fill="#bdbdbd" stroke="#fff" stroke-width="0.6" stroke-linejoin="round"/>
<path d="M291.50,68.60 L299.44,96.28 A28.8,28.8 0 0 1 263.21,63.20 Z" fill="#EF8E93" stroke="#fff" stroke-width="0.6" stroke-linejoin="round"/>
<path d="M291.50,68.60 L263.21,63.20 A28.8,28.8 0 0 1 272.72,46.77 Z" fill="url(#hgx)" stroke="#fff" stroke-width="0.6" stroke-linejoin="round"/>
<path d="M291.50,68.60 L272.72,46.77 A28.8,28.8 0 0 1 276.80,43.84 Z" fill="#DAAE3C" stroke="#fff" stroke-width="0.4" stroke-linejoin="round"/>
<path d="M294.90,156.00 L293.27,126.85 A29.2,29.2 0 0 1 311.23,180.21 Z" fill="url(#hb)" stroke="#fff" stroke-width="0.6" stroke-linejoin="round"/>
<path d="M294.90,156.00 L311.23,180.21 A29.2,29.2 0 0 1 279.43,180.76 Z" fill="#93DCFB" stroke="#fff" stroke-width="0.6" stroke-linejoin="round"/>
<path d="M294.90,156.00 L279.43,180.76 A29.2,29.2 0 0 1 276.52,178.69 Z" fill="#C994FC" stroke="#fff" stroke-width="0.6" stroke-linejoin="round"/>
<path d="M294.90,156.00 L276.52,178.69 A29.2,29.2 0 0 1 274.62,177.00 Z" fill="#d9d9d9" stroke="#fff" stroke-width="0.6" stroke-linejoin="round"/>
<path d="M294.90,156.00 L274.62,177.00 A29.2,29.2 0 0 1 267.64,166.46 Z" fill="#EF8E93" stroke="#fff" stroke-width="0.6" stroke-linejoin="round"/>
<path d="M294.90,156.00 L267.64,166.46 A29.2,29.2 0 0 1 285.30,128.42 Z" fill="url(#hg)" stroke="#fff" stroke-width="0.6" stroke-linejoin="round"/>
<path d="M294.90,156.00 L285.30,128.42 A29.2,29.2 0 0 1 293.27,126.85 Z" fill="#DAAE3C" stroke="#fff" stroke-width="0.6" stroke-linejoin="round"/>
<path d="M298.40,242.30 L308.38,212.63 A31.3,31.3 0 1 1 267.11,241.59 Z" fill="#93DCFB" stroke="#fff" stroke-width="0.6" stroke-linejoin="round"/>
<path d="M298.40,242.30 L267.11,241.59 A31.3,31.3 0 0 1 275.51,220.95 Z" fill="#EF8E93" stroke="#fff" stroke-width="0.6" stroke-linejoin="round"/>
<path d="M298.40,242.30 L275.51,220.95 A31.3,31.3 0 0 1 282.28,215.47 Z" fill="#DAAE3C" stroke="#fff" stroke-width="0.6" stroke-linejoin="round"/>
<path d="M298.40,242.30 L282.28,215.47 A31.3,31.3 0 0 1 308.38,212.63 Z" fill="url(#hb)" stroke="#fff" stroke-width="0.6" stroke-linejoin="round"/>
<path d="M292.70,365.40 L292.70,334.40 A31.0,31.0 0 0 1 322.50,356.86 Z" fill="#EF8E93" stroke="#fff" stroke-width="0.6" stroke-linejoin="round"/>
<path d="M292.70,365.40 L322.50,356.86 A31.0,31.0 0 0 1 307.25,392.77 Z" fill="#93DCFB" stroke="#fff" stroke-width="0.6" stroke-linejoin="round"/>
<path d="M292.70,365.40 L307.25,392.77 A31.0,31.0 0 1 1 292.70,334.40 Z" fill="#86FA59" stroke="#fff" stroke-width="0.6" stroke-linejoin="round"/>
<path d="M294.30,450.90 L275.90,425.95 A31.0,31.0 0 1 1 273.40,473.79 Z" fill="#93DCFB" stroke="#fff" stroke-width="0.6" stroke-linejoin="round"/>
<path d="M294.30,450.90 L273.40,473.79 A31.0,31.0 0 0 1 263.30,450.74 Z" fill="#86FA59" stroke="#fff" stroke-width="0.6" stroke-linejoin="round"/>
<path d="M294.30,450.90 L263.30,450.74 A31.0,31.0 0 0 1 263.77,445.52 Z" fill="#C994FC" stroke="#fff" stroke-width="0.6" stroke-linejoin="round"/>
<path d="M294.30,450.90 L263.77,445.52 A31.0,31.0 0 0 1 275.90,425.95 Z" fill="#EF8E93" stroke="#fff" stroke-width="0.6" stroke-linejoin="round"/>
<path d="M297.30,537.30 L297.30,506.00 A31.3,31.3 0 1 1 271.98,555.70 Z" fill="#EF8E93" stroke="#fff" stroke-width="0.6" stroke-linejoin="round"/>
<path d="M297.30,537.30 L271.98,555.70 A31.3,31.3 0 0 1 266.01,538.12 Z" fill="#93DCFB" stroke="#fff" stroke-width="0.6" stroke-linejoin="round"/>
<path d="M297.30,537.30 L266.01,538.12 A31.3,31.3 0 0 1 297.30,506.00 Z" fill="#86FA59" stroke="#fff" stroke-width="0.6" stroke-linejoin="round"/>
<g transform="translate(246.45 44.40) scale(1.0816 1)"><text x="0" y="0" font-size="11.2" fill="#161616">2.8%</text></g>
<g transform="translate(242.18 59.30) scale(1.0262 1)"><text x="0" y="0" font-size="11.2" fill="#161616">10.6%</text></g>
<g transform="translate(290.89 60.10) scale(1.0369 1)"><text x="0" y="0" font-size="11.2" fill="#161616">40%</text></g>
<g transform="translate(264.20 85.00) scale(1.0093 1)"><text x="0" y="0" font-size="11.2" fill="#161616">33%</text></g>
<g transform="translate(302.27 93.80) scale(1.0650 1)"><text x="0" y="0" font-size="11.2" fill="#161616">9.9%</text></g>
<g transform="translate(271.48 129.20) scale(1.0565 1)"><text x="0" y="0" font-size="11.2" fill="#161616">4.9%</text></g>
<g transform="translate(245.85 151.80) scale(1.0779 1)"><text x="0" y="0" font-size="11.2" fill="#161616">25.5%</text></g>
<g transform="translate(299.68 156.40) scale(1.0611 1)"><text x="0" y="0" font-size="11.2" fill="#161616">41.9%</text></g>
<g transform="translate(290.56 183.20) scale(1.0492 1)"><text x="0" y="0" font-size="11.2" fill="#161616">18.4%</text></g>
<g transform="translate(282.56 217.80) scale(1.0492 1)"><text x="0" y="0" font-size="11.2" fill="#161616">13.4%</text></g>
<g transform="translate(248.45 236.80) scale(1.0507 1)"><text x="0" y="0" font-size="11.2" fill="#161616">11.2%</text></g>
<g transform="translate(284.28 259.50) scale(1.0325 1)"><text x="0" y="0" font-size="11.2" fill="#161616">70.3%</text></g>
<g transform="translate(295.98 347.20) scale(1.0390 1)"><text x="0" y="0" font-size="11.2" fill="#161616">20.3%</text></g>
<g transform="translate(301.77 374.20) scale(1.0519 1)"><text x="0" y="0" font-size="11.2" fill="#161616">21.7%</text></g>
<g transform="translate(264.98 368.00) scale(1.0372 1)"><text x="0" y="0" font-size="11.2" fill="#161616">58%</text></g>
<g transform="translate(247.06 441.00) scale(1.0393 1)"><text x="0" y="0" font-size="11.2" fill="#161616">12.1%</text></g>
<g transform="translate(248.46 460.70) scale(1.0426 1)"><text x="0" y="0" font-size="11.2" fill="#161616">13.3%</text></g>
<g transform="translate(299.68 457.00) scale(1.0390 1)"><text x="0" y="0" font-size="11.2" fill="#161616">71.8%</text></g>
<g transform="translate(255.57 522.30) scale(1.0487 1)"><text x="0" y="0" font-size="11.2" fill="#161616">25.1%</text></g>
<g transform="translate(249.78 550.10) scale(1.0488 1)"><text x="0" y="0" font-size="11.2" fill="#161616">9.7%</text></g>
<g transform="translate(291.17 555.20) scale(1.0552 1)"><text x="0" y="0" font-size="11.2" fill="#161616">64.9%</text></g>
<rect x="571.20" y="36.05" width="1.40" height="14.20" fill="#E6D18B"/>
<rect x="572.60" y="36.05" width="1.60" height="14.20" fill="#C6EEC8"/>
<g transform="translate(579.30 46.85) scale(1.0120 1)"><text x="0" y="0" font-size="12.0" fill="#161616">Nitrile</text></g>
<rect x="569.90" y="53.36" width="2.10" height="14.20" fill="#E6D18B"/>
<rect x="572.00" y="53.36" width="2.20" height="14.20" fill="#C6EEC8"/>
<g transform="translate(579.30 64.16) scale(1.0120 1)"><text x="0" y="0" font-size="12.0" fill="#161616">Azole</text></g>
<rect x="568.00" y="70.67" width="5.60" height="14.20" fill="#E6D18B"/>
<rect x="573.60" y="70.67" width="0.60" height="14.20" fill="#C6EEC8"/>
<g transform="translate(579.30 81.47) scale(1.0120 1)"><text x="0" y="0" font-size="12.0" fill="#161616">Phenol</text></g>
<rect x="566.70" y="87.98" width="1.80" height="14.20" fill="#E6D18B"/>
<rect x="568.50" y="87.98" width="5.70" height="14.20" fill="#C6EEC8"/>
<g transform="translate(579.30 98.78) scale(1.0120 1)"><text x="0" y="0" font-size="12.0" fill="#161616">Pyridine</text></g>
<rect x="565.00" y="105.28" width="2.50" height="14.20" fill="#E6D18B"/>
<rect x="567.50" y="105.28" width="6.70" height="14.20" fill="#8FC8A6"/>
<g transform="translate(579.30 116.08) scale(1.0120 1)"><text x="0" y="0" font-size="12.0" fill="#161616">Ester</text></g>
<rect x="560.70" y="122.59" width="6.00" height="14.20" fill="#E6D18B"/>
<rect x="566.70" y="122.59" width="2.30" height="14.20" fill="#C6EEC8"/>
<rect x="569.00" y="122.59" width="5.20" height="14.20" fill="#8FC8A6"/>
<g transform="translate(579.30 133.39) scale(1.0120 1)"><text x="0" y="0" font-size="12.0" fill="#161616">Amide</text></g>
<rect x="557.80" y="139.90" width="14.20" height="14.20" fill="#E6D18B"/>
<rect x="572.00" y="139.90" width="2.20" height="14.20" fill="#C6EEC8"/>
<g transform="translate(579.30 150.70) scale(1.0120 1)"><text x="0" y="0" font-size="12.0" fill="#161616">Ketone</text></g>
<rect x="551.90" y="157.20" width="20.10" height="14.20" fill="#E6D18B"/>
<rect x="572.00" y="157.20" width="2.20" height="14.20" fill="#C6EEC8"/>
<g transform="translate(579.30 168.00) scale(1.0120 1)"><text x="0" y="0" font-size="12.0" fill="#161616">Carboxylic acid</text></g>
<rect x="531.00" y="174.51" width="17.20" height="14.20" fill="#E6D18B"/>
<rect x="548.20" y="174.51" width="11.60" height="14.20" fill="#C6EEC8"/>
<rect x="559.80" y="174.51" width="14.40" height="14.20" fill="#8FC8A6"/>
<g transform="translate(579.30 185.31) scale(1.0120 1)"><text x="0" y="0" font-size="12.0" fill="#161616">Non-aromatic ring</text></g>
<rect x="515.00" y="191.82" width="22.80" height="14.20" fill="#E6D18B"/>
<rect x="537.80" y="191.82" width="36.40" height="14.20" fill="#C6EEC8"/>
<g transform="translate(579.30 202.62) scale(1.0120 1)"><text x="0" y="0" font-size="12.0" fill="#161616">Ether</text></g>
<rect x="501.10" y="209.12" width="26.10" height="14.20" fill="#E6D18B"/>
<rect x="527.20" y="209.12" width="16.50" height="14.20" fill="#C6EEC8"/>
<rect x="543.70" y="209.12" width="30.50" height="14.20" fill="#8FC8A6"/>
<g transform="translate(579.30 219.92) scale(1.0120 1)"><text x="0" y="0" font-size="12.0" fill="#161616">Aromatic ring</text></g>
<rect x="413.00" y="226.43" width="70.60" height="14.20" fill="#E6D18B"/>
<rect x="483.60" y="226.43" width="71.40" height="14.20" fill="#C6EEC8"/>
<rect x="555.00" y="226.43" width="19.20" height="14.20" fill="#8FC8A6"/>
<g transform="translate(579.30 237.23) scale(1.0120 1)"><text x="0" y="0" font-size="12.0" fill="#161616">Alcohol</text></g>
<rect x="377.70" y="243.74" width="77.30" height="14.20" fill="#E6D18B"/>
<rect x="455.00" y="243.74" width="97.70" height="14.20" fill="#C6EEC8"/>
<rect x="552.70" y="243.74" width="21.50" height="14.20" fill="#8FC8A6"/>
<g transform="translate(579.30 254.54) scale(1.0120 1)"><text x="0" y="0" font-size="12.0" fill="#161616">No ring</text></g>
<rect x="387.30" y="261.05" width="76.00" height="14.20" fill="#E6D18B"/>
<rect x="463.30" y="261.05" width="90.70" height="14.20" fill="#C6EEC8"/>
<rect x="554.00" y="261.05" width="20.20" height="14.20" fill="#8FC8A6"/>
<g transform="translate(579.30 271.85) scale(1.0120 1)"><text x="0" y="0" font-size="12.0" fill="#161616">Amine</text></g>
<path d="M445.30,125.50 L445.30,106.50 A46.5,46.5 0 0 1 466.70,111.72 L457.96,128.59 A27.5,27.5 0 0 0 445.30,125.50 Z" fill="#8FC8A6" stroke="#fff" stroke-width="0.8" stroke-linejoin="round"/>
<path d="M457.96,128.59 L466.70,111.72 A46.5,46.5 0 0 1 490.48,164.01 L472.02,159.51 A27.5,27.5 0 0 0 457.96,128.59 Z" fill="#C6EEC8" stroke="#fff" stroke-width="0.8" stroke-linejoin="round"/>
<path d="M472.02,159.51 L490.48,164.01 A46.5,46.5 0 1 1 445.30,106.50 L445.30,125.50 A27.5,27.5 0 1 0 472.02,159.51 Z" fill="#E6D18B" stroke="#fff" stroke-width="0.8" stroke-linejoin="round"/>
<g transform="translate(424.78 157.30) scale(1.0365 1)"><text x="0" y="0" font-size="15.0" font-weight="bold" fill="#111">ONs+</text></g>
<g transform="translate(450.69 104.80) scale(1.0134 1)"><text x="0" y="0" font-size="13.6" fill="#161616">7.6%</text></g>
<g transform="translate(489.68 135.30) scale(1.0267 1)"><text x="0" y="0" font-size="13.6" fill="#161616">21.2%</text></g>
<g transform="translate(368.59 193.60) scale(1.0214 1)"><text x="0" y="0" font-size="13.6" fill="#161616">71.2%</text></g>
<rect x="362.0" y="34.2" width="212.20000000000005" height="242.8" fill="none" stroke="#222" stroke-width="1.5"/>
<rect x="366.70" y="39.90" width="29.20" height="13.90" fill="#8FC8A6"/>
<rect x="366.70" y="56.10" width="29.20" height="13.70" fill="#C6EEC8"/>
<rect x="366.70" y="72.00" width="29.20" height="14.30" fill="#E6D18B"/>
<g transform="translate(400.17 51.20) scale(1.0462 1)"><text x="0" y="0" font-size="12.6" fill="#161616">Class1+ (POA-like)</text></g>
<g transform="translate(400.18 67.30) scale(1.0402 1)"><text x="0" y="0" font-size="12.6" fill="#161616">Class2+ (BBOA-like)</text></g>
<g transform="translate(400.17 83.40) scale(1.0462 1)"><text x="0" y="0" font-size="12.6" fill="#161616">Class3+ (SOA-like)</text></g>
<line x1="574.20" y1="277.00" x2="574.20" y2="284.30" stroke="#222" stroke-width="1.5"/>
<line x1="561.88" y1="277.00" x2="561.88" y2="280.50" stroke="#222" stroke-width="1.5"/>
<line x1="549.55" y1="277.00" x2="549.55" y2="280.50" stroke="#222" stroke-width="1.5"/>
<line x1="537.23" y1="277.00" x2="537.23" y2="280.50" stroke="#222" stroke-width="1.5"/>
<line x1="524.90" y1="277.00" x2="524.90" y2="284.30" stroke="#222" stroke-width="1.5"/>
<line x1="512.58" y1="277.00" x2="512.58" y2="280.50" stroke="#222" stroke-width="1.5"/>
<line x1="500.25" y1="277.00" x2="500.25" y2="280.50" stroke="#222" stroke-width="1.5"/>
<line x1="487.93" y1="277.00" x2="487.93" y2="280.50" stroke="#222" stroke-width="1.5"/>
<line x1="475.60" y1="277.00" x2="475.60" y2="284.30" stroke="#222" stroke-width="1.5"/>
<line x1="463.28" y1="277.00" x2="463.28" y2="280.50" stroke="#222" stroke-width="1.5"/>
<line x1="450.95" y1="277.00" x2="450.95" y2="280.50" stroke="#222" stroke-width="1.5"/>
<line x1="438.63" y1="277.00" x2="438.63" y2="280.50" stroke="#222" stroke-width="1.5"/>
<line x1="426.30" y1="277.00" x2="426.30" y2="284.30" stroke="#222" stroke-width="1.5"/>
<line x1="413.98" y1="277.00" x2="413.98" y2="280.50" stroke="#222" stroke-width="1.5"/>
<line x1="401.65" y1="277.00" x2="401.65" y2="280.50" stroke="#222" stroke-width="1.5"/>
<line x1="389.33" y1="277.00" x2="389.33" y2="280.50" stroke="#222" stroke-width="1.5"/>
<line x1="377.00" y1="277.00" x2="377.00" y2="284.30" stroke="#222" stroke-width="1.5"/>
<g transform="translate(570.93 301.95) rotate(0) scale(1.0500 1)"><text x="0" y="0" font-size="12.2" fill="#161616">0</text></g>
<g transform="translate(509.70 305.46) rotate(-15) scale(1.0500 1)"><text x="0" y="0" font-size="12.2" fill="#161616">2&#215;10<tspan font-size="8.3" dy="-5.0">8</tspan></text></g>
<g transform="translate(460.56 305.42) rotate(-15) scale(1.0500 1)"><text x="0" y="0" font-size="12.2" fill="#161616">4&#215;10<tspan font-size="8.3" dy="-5.0">8</tspan></text></g>
<g transform="translate(411.10 305.46) rotate(-15) scale(1.0500 1)"><text x="0" y="0" font-size="12.2" fill="#161616">6&#215;10<tspan font-size="8.3" dy="-5.0">8</tspan></text></g>
<g transform="translate(361.86 305.44) rotate(-15) scale(1.0500 1)"><text x="0" y="0" font-size="12.2" fill="#161616">8&#215;10<tspan font-size="8.3" dy="-5.0">8</tspan></text></g>
<g transform="translate(443.95 319.20) scale(1.0486 1)"><text x="0" y="0" font-size="12.4" fill="#161616">Peak area</text></g>
<rect x="559.40" y="333.00" width="2.70" height="13.00" fill="#E6D18B"/>
<rect x="562.10" y="333.00" width="6.60" height="13.00" fill="#C6EEC8"/>
<g transform="translate(574.00 344.00) scale(1.0120 1)"><text x="0" y="0" font-size="12.0" fill="#161616">Alkylaryl</text></g>
<rect x="552.10" y="349.19" width="4.00" height="13.00" fill="#E6D18B"/>
<rect x="556.10" y="349.19" width="12.60" height="13.00" fill="#C6EEC8"/>
<g transform="translate(574.00 360.19) scale(1.0120 1)"><text x="0" y="0" font-size="12.0" fill="#161616">Sulfonate</text></g>
<rect x="551.30" y="365.38" width="4.00" height="13.00" fill="#E6D18B"/>
<rect x="555.30" y="365.38" width="10.80" height="13.00" fill="#C6EEC8"/>
<rect x="566.10" y="365.38" width="2.60" height="13.00" fill="#8FC8A6"/>
<g transform="translate(574.00 376.38) scale(1.0120 1)"><text x="0" y="0" font-size="12.0" fill="#161616">Amine</text></g>
<rect x="550.20" y="381.58" width="5.90" height="13.00" fill="#E6D18B"/>
<rect x="556.10" y="381.58" width="12.60" height="13.00" fill="#C6EEC8"/>
<g transform="translate(574.00 392.58) scale(1.0120 1)"><text x="0" y="0" font-size="12.0" fill="#161616">Ester</text></g>
<rect x="544.90" y="397.77" width="10.40" height="13.00" fill="#E6D18B"/>
<rect x="555.30" y="397.77" width="13.40" height="13.00" fill="#C6EEC8"/>
<g transform="translate(574.00 408.77) scale(1.0120 1)"><text x="0" y="0" font-size="12.0" fill="#161616">Non-aromatic ring</text></g>
<rect x="538.50" y="413.96" width="8.20" height="13.00" fill="#E6D18B"/>
<rect x="546.70" y="413.96" width="22.00" height="13.00" fill="#C6EEC8"/>
<g transform="translate(574.00 424.96) scale(1.0120 1)"><text x="0" y="0" font-size="12.0" fill="#161616">Ether</text></g>
<rect x="538.10" y="430.16" width="9.80" height="13.00" fill="#E6D18B"/>
<rect x="547.90" y="430.16" width="20.80" height="13.00" fill="#C6EEC8"/>
<g transform="translate(574.00 441.16) scale(1.0120 1)"><text x="0" y="0" font-size="12.0" fill="#161616">Alcohol</text></g>
<rect x="537.70" y="446.35" width="8.20" height="13.00" fill="#E6D18B"/>
<rect x="545.90" y="446.35" width="20.20" height="13.00" fill="#C6EEC8"/>
<rect x="566.10" y="446.35" width="2.60" height="13.00" fill="#8FC8A6"/>
<g transform="translate(574.00 457.35) scale(1.0120 1)"><text x="0" y="0" font-size="12.0" fill="#161616">Ketone</text></g>
<rect x="514.60" y="462.54" width="23.50" height="13.00" fill="#E6D18B"/>
<rect x="538.10" y="462.54" width="25.10" height="13.00" fill="#C6EEC8"/>
<rect x="563.20" y="462.54" width="5.50" height="13.00" fill="#8FC8A6"/>
<g transform="translate(574.00 473.54) scale(1.0120 1)"><text x="0" y="0" font-size="12.0" fill="#161616">Organosulfate</text></g>
<rect x="511.10" y="478.74" width="20.30" height="13.00" fill="#E6D18B"/>
<rect x="531.40" y="478.74" width="30.60" height="13.00" fill="#C6EEC8"/>
<rect x="562.00" y="478.74" width="6.70" height="13.00" fill="#8FC8A6"/>
<g transform="translate(574.00 489.74) scale(1.0120 1)"><text x="0" y="0" font-size="12.0" fill="#161616">Monocarboxylic acid</text></g>
<rect x="489.40" y="494.93" width="74.80" height="13.00" fill="#E6D18B"/>
<rect x="564.20" y="494.93" width="4.50" height="13.00" fill="#C6EEC8"/>
<g transform="translate(574.00 505.93) scale(1.0120 1)"><text x="0" y="0" font-size="12.0" fill="#161616">Multi-carboxylic acid</text></g>
<rect x="468.50" y="511.12" width="2.40" height="13.00" fill="#E6D18B"/>
<rect x="470.90" y="511.12" width="97.80" height="13.00" fill="#C6EEC8"/>
<g transform="translate(574.00 522.12) scale(1.0120 1)"><text x="0" y="0" font-size="12.0" fill="#161616">Nitro-aromatic</text></g>
<rect x="457.50" y="527.32" width="66.50" height="13.00" fill="#E6D18B"/>
<rect x="524.00" y="527.32" width="31.80" height="13.00" fill="#C6EEC8"/>
<rect x="555.80" y="527.32" width="12.90" height="13.00" fill="#8FC8A6"/>
<g transform="translate(574.00 538.32) scale(1.0120 1)"><text x="0" y="0" font-size="12.0" fill="#161616">no ring</text></g>
<rect x="431.60" y="543.51" width="20.10" height="13.00" fill="#E6D18B"/>
<rect x="451.70" y="543.51" width="117.00" height="13.00" fill="#C6EEC8"/>
<g transform="translate(574.00 554.51) scale(1.0120 1)"><text x="0" y="0" font-size="12.0" fill="#161616">Phenol</text></g>
<rect x="377.50" y="559.70" width="58.10" height="13.00" fill="#E6D18B"/>
<rect x="435.60" y="559.70" width="133.10" height="13.00" fill="#C6EEC8"/>
<g transform="translate(574.00 570.70) scale(1.0120 1)"><text x="0" y="0" font-size="12.0" fill="#161616">Aromatic ring</text></g>
<path d="M428.98,432.00 L415.19,419.67 A46.7,46.7 0 0 1 421.90,413.50 L433.03,428.28 A28.2,28.2 0 0 0 428.98,432.00 Z" fill="#8FC8A6" stroke="#fff" stroke-width="0.8" stroke-linejoin="round"/>
<path d="M433.03,428.28 L421.90,413.50 A46.7,46.7 0 1 1 407.85,470.90 L424.55,462.94 A28.2,28.2 0 1 0 433.03,428.28 Z" fill="#C6EEC8" stroke="#fff" stroke-width="0.8" stroke-linejoin="round"/>
<path d="M424.55,462.94 L407.85,470.90 A46.7,46.7 0 0 1 415.19,419.67 L428.98,432.00 A28.2,28.2 0 0 0 424.55,462.94 Z" fill="#E6D18B" stroke="#fff" stroke-width="0.8" stroke-linejoin="round"/>
<g transform="translate(431.74 456.60) scale(1.0925 1)"><text x="0" y="0" font-size="15.0" font-weight="bold" fill="#111">ONs-</text></g>
<g transform="translate(383.38 418.10) scale(1.0333 1)"><text x="0" y="0" font-size="13.6" fill="#161616">3.1%</text></g>
<g transform="translate(363.28 448.00) scale(1.0162 1)"><text x="0" y="0" font-size="13.6" fill="#161616">18.7%</text></g>
<g transform="translate(496.50 454.30) scale(1.0000 1)"><text x="0" y="0" font-size="13.6" fill="#161616">78.2%</text></g>
<rect x="356.2" y="331.4" width="212.50000000000006" height="242.89999999999998" fill="none" stroke="#222" stroke-width="1.5"/>
<rect x="361.90" y="336.50" width="28.90" height="14.20" fill="#8FC8A6"/>
<rect x="361.90" y="352.80" width="28.90" height="14.10" fill="#C6EEC8"/>
<rect x="361.90" y="368.90" width="28.90" height="14.20" fill="#E6D18B"/>
<g transform="translate(394.57 347.80) scale(1.0564 1)"><text x="0" y="0" font-size="12.6" fill="#161616">Class1- (POA-like)</text></g>
<g transform="translate(394.57 363.90) scale(1.0476 1)"><text x="0" y="0" font-size="12.6" fill="#161616">Class2- (BBOA-like)</text></g>
<g transform="translate(394.57 379.90) scale(1.0564 1)"><text x="0" y="0" font-size="12.6" fill="#161616">Class3- (SOA-like)</text></g>
<line x1="568.70" y1="574.30" x2="568.70" y2="582.10" stroke="#222" stroke-width="1.5"/>
<line x1="558.87" y1="574.30" x2="558.87" y2="578.10" stroke="#222" stroke-width="1.5"/>
<line x1="549.04" y1="574.30" x2="549.04" y2="578.10" stroke="#222" stroke-width="1.5"/>
<line x1="539.21" y1="574.30" x2="539.21" y2="578.10" stroke="#222" stroke-width="1.5"/>
<line x1="529.38" y1="574.30" x2="529.38" y2="582.10" stroke="#222" stroke-width="1.5"/>
<line x1="519.55" y1="574.30" x2="519.55" y2="578.10" stroke="#222" stroke-width="1.5"/>
<line x1="509.72" y1="574.30" x2="509.72" y2="578.10" stroke="#222" stroke-width="1.5"/>
<line x1="499.89" y1="574.30" x2="499.89" y2="578.10" stroke="#222" stroke-width="1.5"/>
<line x1="490.06" y1="574.30" x2="490.06" y2="582.10" stroke="#222" stroke-width="1.5"/>
<line x1="480.23" y1="574.30" x2="480.23" y2="578.10" stroke="#222" stroke-width="1.5"/>
<line x1="470.40" y1="574.30" x2="470.40" y2="578.10" stroke="#222" stroke-width="1.5"/>
<line x1="460.57" y1="574.30" x2="460.57" y2="578.10" stroke="#222" stroke-width="1.5"/>
<line x1="450.74" y1="574.30" x2="450.74" y2="582.10" stroke="#222" stroke-width="1.5"/>
<line x1="440.91" y1="574.30" x2="440.91" y2="578.10" stroke="#222" stroke-width="1.5"/>
<line x1="431.08" y1="574.30" x2="431.08" y2="578.10" stroke="#222" stroke-width="1.5"/>
<line x1="421.25" y1="574.30" x2="421.25" y2="578.10" stroke="#222" stroke-width="1.5"/>
<line x1="411.42" y1="574.30" x2="411.42" y2="582.10" stroke="#222" stroke-width="1.5"/>
<line x1="401.59" y1="574.30" x2="401.59" y2="578.10" stroke="#222" stroke-width="1.5"/>
<line x1="391.76" y1="574.30" x2="391.76" y2="578.10" stroke="#222" stroke-width="1.5"/>
<line x1="381.93" y1="574.30" x2="381.93" y2="578.10" stroke="#222" stroke-width="1.5"/>
<line x1="372.10" y1="574.30" x2="372.10" y2="582.10" stroke="#222" stroke-width="1.5"/>
<line x1="362.27" y1="574.30" x2="362.27" y2="578.10" stroke="#222" stroke-width="1.5"/>
<g transform="translate(563.63 600.45) rotate(0) scale(1.0500 1)"><text x="0" y="0" font-size="12.2" fill="#161616">0</text></g>
<g transform="translate(512.19 603.91) rotate(-15) scale(1.0500 1)"><text x="0" y="0" font-size="12.2" fill="#161616">2&#215;10<tspan font-size="8.3" dy="-5.0">7</tspan></text></g>
<g transform="translate(473.04 603.87) rotate(-15) scale(1.0500 1)"><text x="0" y="0" font-size="12.2" fill="#161616">4&#215;10<tspan font-size="8.3" dy="-5.0">7</tspan></text></g>
<g transform="translate(433.59 603.91) rotate(-15) scale(1.0500 1)"><text x="0" y="0" font-size="12.2" fill="#161616">6&#215;10<tspan font-size="8.3" dy="-5.0">7</tspan></text></g>
<g transform="translate(394.34 603.89) rotate(-15) scale(1.0500 1)"><text x="0" y="0" font-size="12.2" fill="#161616">8&#215;10<tspan font-size="8.3" dy="-5.0">7</tspan></text></g>
<g transform="translate(354.85 604.00) rotate(-15) scale(1.0500 1)"><text x="0" y="0" font-size="12.2" fill="#161616">1&#215;10<tspan font-size="8.3" dy="-5.0">8</tspan></text></g>
<g transform="translate(443.95 618.50) scale(1.0541 1)"><text x="0" y="0" font-size="12.4" fill="#161616">Peak area</text></g>
</svg>
</body></html>
